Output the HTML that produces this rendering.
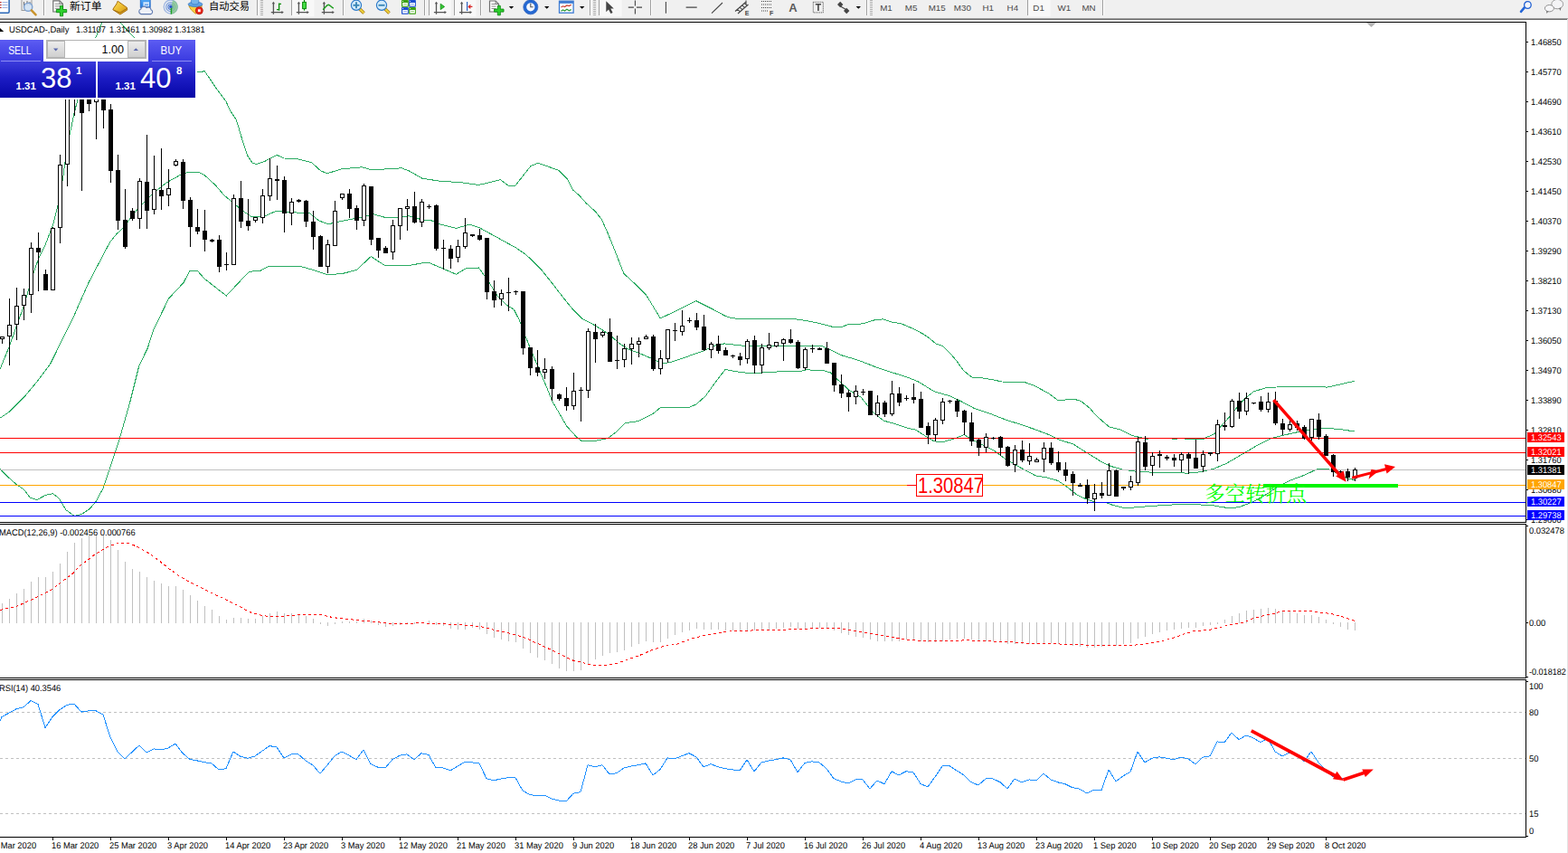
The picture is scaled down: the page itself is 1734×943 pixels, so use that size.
<!DOCTYPE html>
<html><head><meta charset="utf-8"><title>USDCAD Daily</title>
<style>
html,body{margin:0;padding:0;background:#fff;}
body{width:1734px;height:943px;position:relative;overflow:hidden;font-family:"Liberation Sans",sans-serif;}
.t{position:absolute;white-space:nowrap;line-height:11px;font-family:"Liberation Sans",sans-serif;}
.n{transform:scaleX(.95) rotate(0.03deg);transform-origin:0 0;}
svg{position:absolute;left:0;top:0;}
#tbbg{position:absolute;left:0;top:0;width:1734px;height:20px;background:#f0f0f0;}
#e1{position:absolute;left:0;top:20px;width:1734px;height:1px;background:#a0a0a0;}
#e2{position:absolute;left:0;top:21px;width:1734px;height:1px;background:#696969;}
#re{position:absolute;left:1733px;top:21px;width:1px;height:922px;background:#e3e3e3;}
#panel{position:absolute;left:0;top:44px;width:216px;height:64px;}
#panel div{position:absolute;}
.pb{background:linear-gradient(#5c5cf2,#3a3ae0);color:#fff;font-size:13px;text-align:center;line-height:24px;}
.pp{background:linear-gradient(#3c3cdc 0%,#1c1cc4 45%,#0606a6 100%);color:#fff;}
.sm{font-size:11.5px;font-weight:bold;color:#fff;line-height:12px;}
.lg{font-size:31px;color:#fff;line-height:31px;}
.su{font-size:11.5px;font-weight:bold;color:#fff;line-height:11px;}
.sb{background:linear-gradient(#ececec,#cfcfcf);border:1px solid #b4b4b4;box-sizing:border-box;}
</style></head><body>
<div id="tbbg"></div><div id="e1"></div><div id="e2"></div>
<svg width="1734" height="20" viewBox="0 0 1734 20"><rect x="-6" y="-3" width="16.1" height="17.3" rx="1.2" fill="#fff" stroke="#2a68b8" stroke-width="1.5"/>
<path d="M0 2.5 H1.6" stroke="#b02020" stroke-width="1"/><path d="M2.5 2.5 H8.5" stroke="#9fb4e0" stroke-width="1"/>
<path d="M0 5.5 H1.6" stroke="#b02020" stroke-width="1"/><path d="M2.5 5.5 H8.5" stroke="#9fb4e0" stroke-width="1"/>
<path d="M0 8.5 H1.6" stroke="#b02020" stroke-width="1"/><path d="M2.5 8.5 H8.5" stroke="#9fb4e0" stroke-width="1"/>
<rect x="24" y="-2" width="11" height="13.5" fill="#ececec" stroke="#9a9a9a" stroke-width="1"/>
<path d="M26.5 2 V7 M30 1 V6 M33 2 V6" stroke="#707070" stroke-width="1"/>
<circle cx="31.2" cy="7.8" r="4.6" fill="#cfe2f6" fill-opacity=".85" stroke="#7fa2d0" stroke-width="1.4"/>
<path d="M34.8 11.4 L39.6 16.4" stroke="#c8922a" stroke-width="2.4" stroke-linecap="round"/>
<rect x="48" y="0" width="1" height="17" fill="#a0a0a0" shape-rendering="crispEdges"/><rect x="49" y="0" width="1" height="17" fill="#fff" shape-rendering="crispEdges"/>
<path d="M58.8 0.8 H65.89999999999999 L69.39999999999999 4.3 V13.0 H58.8 Z" fill="#fff" stroke="#6e6e6e" stroke-width="1.2"/>
<path d="M65.89999999999999 0.8 V4.3 H69.39999999999999" fill="none" stroke="#7a7a7a" stroke-width="1"/>
<path d="M60.8 4.3 H66.39999999999999" stroke="#8a8a8a" stroke-width="1"/>
<path d="M60.8 6.8 H66.39999999999999" stroke="#8a8a8a" stroke-width="1"/>
<path d="M60.8 9.3 H66.39999999999999" stroke="#8a8a8a" stroke-width="1"/>
<path d="M66.4 6.3999999999999995 H69.6 V10.5 H73.7 V13.7 H69.6 V17.8 H66.4 V13.7 H62.3 V10.5 H66.4 Z" fill="#2fd02f" stroke="#0a8a10" stroke-width=".9"/>
<text x="77" y="11.4" font-family="&quot;Liberation Sans&quot;, &quot;Noto Sans CJK SC&quot;, sans-serif" font-size="11.8" fill="#000" textLength="35.6" lengthAdjust="spacingAndGlyphs">新订单</text>
<defs><linearGradient id="gy" x1="0" y1="0" x2="1" y2="1"><stop offset="0" stop-color="#fbe060"/><stop offset=".55" stop-color="#eab82a"/><stop offset="1" stop-color="#c88a14"/></linearGradient><linearGradient id="gb" x1="0" y1="0" x2="0" y2="1"><stop offset="0" stop-color="#58aef8"/><stop offset="1" stop-color="#1f78e0"/></linearGradient></defs>
<path d="M130.2 1.2 L140.4 8.4 L140.8 10.9 L132.9 16 L124.8 10.6 Q126 8 127.8 6 Q129.5 3.5 130.2 1.2 Z" fill="url(#gy)" stroke="#a8700f" stroke-width="1"/>
<path d="M125.6 11.2 L132.9 14 L140.3 9.4" fill="none" stroke="#9a640c" stroke-width=".9"/>
<path d="M155.3 0 L158 -1.5 H166.2 V8.5 H155.3 Z" fill="url(#gb)" stroke="#1b62c4" stroke-width=".8"/><rect x="158.4" y="2.2" width="6.6" height="5" fill="#e8f3ff" fill-opacity=".85"/><path d="M160 5.2 H164" stroke="#3a86e0" stroke-width="1"/>
<path d="M156 15.6 a2.9 2.9 0 0 1 -0.2 -5.6 a3.6 3.6 0 0 1 6.4 -1.4 a3 3 0 0 1 4.8 2.2 a2.5 2.5 0 0 1 -0.3 4.8 Z" fill="#eef1f7" stroke="#5d78ae" stroke-width="1.1"/>
<circle cx="188.7" cy="7.6" r="7.5" fill="#e6eef8" fill-opacity=".6" stroke="#9fb6e0" stroke-width="1.3"/><circle cx="188.7" cy="7.6" r="5" fill="none" stroke="#7f9fd8" stroke-width="1.2"/><circle cx="188.7" cy="7.6" r="2.8" fill="none" stroke="#4f7bd0" stroke-width="1.1"/>
<path d="M189.3 7.6 L189.3 15.6 A8 8 0 0 0 196.6 6 A8 8 0 0 0 191 0.2 Z" fill="#7fc486" fill-opacity=".75"/>
<path d="M189.4 7.6 V15.6" stroke="#1fa224" stroke-width="1.5"/><circle cx="188.8" cy="7.4" r="1.7" fill="#2a56c8"/>
<path d="M208.8 6.6 H223.4 Q222 11 216.2 15.3 Q210.5 11 208.8 6.6 Z" fill="#f8d040" stroke="#c8941a" stroke-width=".9"/>
<ellipse cx="216" cy="4.8" rx="7.9" ry="2.7" fill="#5ea4e4" stroke="#3a78c4" stroke-width=".8"/><ellipse cx="215.6" cy="1.8" rx="4.3" ry="3.2" fill="#74b4ea" stroke="#3a78c4" stroke-width=".8"/>
<circle cx="220.3" cy="11.7" r="4" fill="#e8281c" stroke="#b41208" stroke-width=".8"/><rect x="218.9" y="10.3" width="2.8" height="2.8" fill="#fff"/>
<text x="231" y="11.4" font-family="&quot;Liberation Sans&quot;, &quot;Noto Sans CJK SC&quot;, sans-serif" font-size="11.5" fill="#000" textLength="45" lengthAdjust="spacingAndGlyphs">自动交易</text>
<rect x="284" y="0" width="1" height="17" fill="#a0a0a0" shape-rendering="crispEdges"/><rect x="285" y="0" width="1" height="17" fill="#fff" shape-rendering="crispEdges"/>
<rect x="288" y="0" width="3" height="1" fill="#b0b0b0" shape-rendering="crispEdges"/>
<rect x="288" y="2" width="3" height="1" fill="#b0b0b0" shape-rendering="crispEdges"/>
<rect x="288" y="4" width="3" height="1" fill="#b0b0b0" shape-rendering="crispEdges"/>
<rect x="288" y="6" width="3" height="1" fill="#b0b0b0" shape-rendering="crispEdges"/>
<rect x="288" y="8" width="3" height="1" fill="#b0b0b0" shape-rendering="crispEdges"/>
<rect x="288" y="10" width="3" height="1" fill="#b0b0b0" shape-rendering="crispEdges"/>
<rect x="288" y="12" width="3" height="1" fill="#b0b0b0" shape-rendering="crispEdges"/>
<rect x="288" y="14" width="3" height="1" fill="#b0b0b0" shape-rendering="crispEdges"/>
<rect x="288" y="16" width="3" height="1" fill="#b0b0b0" shape-rendering="crispEdges"/>
<path d="M302.4 3.2 V15.8 M299.79999999999995 13.6 H312.59999999999997" stroke="#555" stroke-width="1.3" fill="none"/><path d="M300.7 4.2 L302.4 1.8 L304.09999999999997 4.2 Z M311.4 11.9 L313.79999999999995 13.6 L311.4 15.299999999999999 Z" fill="#555"/>
<path d="M308.6 3.4 V11.7 M306 10.6 H308.6 M308.6 4.4 H311" stroke="#0f8f0f" stroke-width="1.4" fill="none"/>
<rect x="323" y="-2" width="24.5" height="20.2" fill="#f8f8f8"/><rect x="322" y="0" width="1" height="17" fill="#a0a0a0" shape-rendering="crispEdges"/>
<path d="M330.4 3.2 V15.8 M327.79999999999995 13.6 H340.59999999999997" stroke="#555" stroke-width="1.3" fill="none"/><path d="M328.7 4.2 L330.4 1.8 L332.09999999999997 4.2 Z M339.4 11.9 L341.79999999999995 13.6 L339.4 15.299999999999999 Z" fill="#555"/>
<path d="M336.5 0 V11.7" stroke="#0c8a0c" stroke-width="1.2"/><rect x="334.6" y="2.4" width="3.8" height="7.2" fill="#48e048" stroke="#0c8a0c" stroke-width="1"/>
<path d="M358.4 3.2 V15.8 M355.79999999999995 13.6 H368.59999999999997" stroke="#555" stroke-width="1.3" fill="none"/><path d="M356.7 4.2 L358.4 1.8 L360.09999999999997 4.2 Z M367.4 11.9 L369.79999999999995 13.6 L367.4 15.299999999999999 Z" fill="#555"/>
<path d="M357.1 10.7 C359.5 9 361 5.3 363.2 5.2 C365 5.2 366.5 8.3 368.9 9.1" stroke="#1f9e1f" stroke-width="1.4" fill="none"/>
<rect x="379" y="0" width="1" height="17" fill="#a0a0a0" shape-rendering="crispEdges"/><rect x="380" y="0" width="1" height="17" fill="#fff" shape-rendering="crispEdges"/>
<path d="M397.9 9.9 L402.5 14.5" stroke="#a87a18" stroke-width="3.6" stroke-linecap="butt"/><path d="M397.7 9.7 L402.3 14.3" stroke="#ecd03a" stroke-width="2.2" stroke-linecap="butt"/>
<circle cx="394" cy="5.8" r="5.6" fill="#d4ecfb" stroke="#2a78c8" stroke-width="1.15"/>
<path d="M390.5 5.8 H397.5" stroke="#3b87b7" stroke-width="1.9"/>
<path d="M394 2.3 V9.3" stroke="#3b87b7" stroke-width="1.9"/>
<path d="M425.9 9.9 L430.5 14.5" stroke="#a87a18" stroke-width="3.6" stroke-linecap="butt"/><path d="M425.7 9.7 L430.3 14.3" stroke="#ecd03a" stroke-width="2.2" stroke-linecap="butt"/>
<circle cx="422" cy="5.8" r="5.6" fill="#d4ecfb" stroke="#2a78c8" stroke-width="1.15"/>
<path d="M418.5 5.8 H425.5" stroke="#3b87b7" stroke-width="1.9"/>
<rect x="444" y="0" width="7.8" height="7.7" rx=".8" fill="#3aa012"/><rect x="445.2" y="3" width="5.6" height="3.6" fill="#fff"/><rect x="446.2" y="4.1" width="3.6" height="1" fill="#8fd070"/><rect x="445" y="1" width="1" height="1" fill="#fff" fill-opacity=".8"/>
<rect x="452.1" y="0" width="7.8" height="7.7" rx=".8" fill="#1c4ed2"/><rect x="453.3" y="3" width="5.6" height="3.6" fill="#fff"/><rect x="454.3" y="4.1" width="3.6" height="1" fill="#8aa8f0"/><rect x="453.1" y="1" width="1" height="1" fill="#fff" fill-opacity=".8"/>
<rect x="444" y="8" width="7.8" height="7.7" rx=".8" fill="#1c4ed2"/><rect x="445.2" y="11" width="5.6" height="3.6" fill="#fff"/><rect x="446.2" y="12.1" width="3.6" height="1" fill="#8aa8f0"/><rect x="445" y="9" width="1" height="1" fill="#fff" fill-opacity=".8"/>
<rect x="452.1" y="8" width="7.8" height="7.7" rx=".8" fill="#3aa012"/><rect x="453.3" y="11" width="5.6" height="3.6" fill="#fff"/><rect x="454.3" y="12.1" width="3.6" height="1" fill="#8fd070"/><rect x="453.1" y="9" width="1" height="1" fill="#fff" fill-opacity=".8"/>
<rect x="469" y="0" width="1" height="17" fill="#a0a0a0" shape-rendering="crispEdges"/><rect x="470" y="0" width="1" height="17" fill="#fff" shape-rendering="crispEdges"/>
<rect x="474.6" y="-2" width="24.19999999999999" height="20.2" fill="#f8f8f8"/><rect x="473.6" y="0" width="1" height="17" fill="#a0a0a0" shape-rendering="crispEdges"/>
<path d="M482.5 3.2 V15.8 M479.9 13.6 H492.7" stroke="#555" stroke-width="1.3" fill="none"/><path d="M480.8 4.2 L482.5 1.8 L484.2 4.2 Z M491.5 11.9 L493.9 13.6 L491.5 15.299999999999999 Z" fill="#555"/>
<path d="M487.2 4.2 L491.6 7.4 L487.2 10.6 Z" fill="#37c837" stroke="#0c8d0c" stroke-width=".8"/>
<rect x="502.6" y="-2" width="24.0" height="20.2" fill="#f8f8f8"/><rect x="501.6" y="0" width="1" height="17" fill="#a0a0a0" shape-rendering="crispEdges"/>
<path d="M510.6 3.2 V15.8 M508.0 13.6 H520.8" stroke="#555" stroke-width="1.3" fill="none"/><path d="M508.90000000000003 4.2 L510.6 1.8 L512.3000000000001 4.2 Z M519.6 11.9 L522.0 13.6 L519.6 15.299999999999999 Z" fill="#555"/>
<path d="M516.6 2 V12" stroke="#2a62c0" stroke-width="1.2"/><path d="M522.4 7.4 H518.4 M520.4 5.4 L518.2 7.4 L520.4 9.4" stroke="#d82020" stroke-width="1.2" fill="none"/>
<rect x="531" y="0" width="1" height="17" fill="#a0a0a0" shape-rendering="crispEdges"/><rect x="532" y="0" width="1" height="17" fill="#fff" shape-rendering="crispEdges"/>
<path d="M541.5 1 H548.0 L551.5 4.5 V13 H541.5 Z" fill="#fff" stroke="#6e6e6e" stroke-width="1.2"/>
<path d="M548.0 1 V4.5 H551.5" fill="none" stroke="#7a7a7a" stroke-width="1"/>
<path d="M543.5 4.5 H548.5" stroke="#8a8a8a" stroke-width="1"/>
<path d="M543.5 7 H548.5" stroke="#8a8a8a" stroke-width="1"/>
<path d="M543.5 9.5 H548.5" stroke="#8a8a8a" stroke-width="1"/>
<path d="M550.3 6.3999999999999995 H553.3 V10.1 H557.0 V13.1 H553.3 V16.8 H550.3 V13.1 H546.5999999999999 V10.1 H550.3 Z" fill="#2fd02f" stroke="#0a8a10" stroke-width=".9"/>
<path d="M562.8 7 L568.1999999999999 7 L565.5 9.8 Z" fill="#000"/>
<circle cx="586.8" cy="7.8" r="6.3" fill="#f4f8ff" stroke="#2468d2" stroke-width="3.3"/><circle cx="586.8" cy="7.8" r="8.1" fill="none" stroke="#1b4fae" stroke-width=".6"/><path d="M586.8 3.8 V7.8 H589.6" stroke="#555" stroke-width="1.1" fill="none"/>
<path d="M602 7 L607.4 7 L604.7 9.8 Z" fill="#000"/>
<rect x="618.5" y="1.2" width="15.6" height="13" fill="#fff" stroke="#3b7ad2" stroke-width="1.3"/><rect x="618.5" y="1.2" width="15.6" height="2.6" fill="#3b7ad2"/>
<path d="M620.5 8 l2 -1.2 l2 .8 l2.4 -1.6 l2.4 .6 l2.4 -1.4" stroke="#c83a2a" stroke-width="1.2" fill="none"/><path d="M620.5 12.2 l2 -1.2 l2 1 l2.4 -1.8 l2.4 1.6 l2.4 -1.2" stroke="#2a9a3a" stroke-width="1.2" fill="none"/>
<path d="M641 7 L646.4 7 L643.7 9.8 Z" fill="#000"/>
<rect x="652" y="0" width="1" height="17" fill="#a0a0a0" shape-rendering="crispEdges"/><rect x="653" y="0" width="1" height="17" fill="#fff" shape-rendering="crispEdges"/>
<rect x="655.6" y="0" width="3" height="1" fill="#b0b0b0" shape-rendering="crispEdges"/>
<rect x="655.6" y="2" width="3" height="1" fill="#b0b0b0" shape-rendering="crispEdges"/>
<rect x="655.6" y="4" width="3" height="1" fill="#b0b0b0" shape-rendering="crispEdges"/>
<rect x="655.6" y="6" width="3" height="1" fill="#b0b0b0" shape-rendering="crispEdges"/>
<rect x="655.6" y="8" width="3" height="1" fill="#b0b0b0" shape-rendering="crispEdges"/>
<rect x="655.6" y="10" width="3" height="1" fill="#b0b0b0" shape-rendering="crispEdges"/>
<rect x="655.6" y="12" width="3" height="1" fill="#b0b0b0" shape-rendering="crispEdges"/>
<rect x="655.6" y="14" width="3" height="1" fill="#b0b0b0" shape-rendering="crispEdges"/>
<rect x="655.6" y="16" width="3" height="1" fill="#b0b0b0" shape-rendering="crispEdges"/>
<rect x="663.4" y="-2" width="24.200000000000045" height="20.2" fill="#f8f8f8"/><rect x="662.4" y="0" width="1" height="17" fill="#a0a0a0" shape-rendering="crispEdges"/>
<path d="M670.3 1.2 V13.2 L673 10.4 L675.4 15 L677.6 14 L675.3 9.6 L678.8 9.6 Z" fill="#454545"/>
<path d="M702.4 0.5 V6.6 M702.4 9.6 V15.6 M694.8 8.1 H700.9 M703.9 8.1 H710" stroke="#454545" stroke-width="1.1"/>
<rect x="718.5" y="0" width="1" height="17" fill="#a0a0a0" shape-rendering="crispEdges"/><rect x="719.5" y="0" width="1" height="17" fill="#fff" shape-rendering="crispEdges"/>
<path d="M736.4 2 V14.7 M758.6 8.1 H770.7 M787 14.6 L799 3" stroke="#454545" stroke-width="1.1" fill="none"/>
<path d="M813 12.5 L824.5 2.5 M816 15 L827.5 5 M815.5 10.3 L818.5 12.8 M818 8.1 L821 10.6 M820.6 5.9 L823.6 8.4 M823.2 3.7 L826.2 6.2 M825 0.5 V5" stroke="#454545" stroke-width="1.1" fill="none"/>
<text x="823.8" y="17" font-family="Liberation Sans" font-weight="bold" font-size="7" fill="#454545">E</text>
<path d="M842 1.5 H853.5" stroke="#454545" stroke-width="1" stroke-dasharray="1 1"/>
<path d="M842 5 H853.5" stroke="#454545" stroke-width="1" stroke-dasharray="1 1"/>
<path d="M842 8.5 H853.5" stroke="#454545" stroke-width="1" stroke-dasharray="1 1"/>
<path d="M842 12 H849.5" stroke="#454545" stroke-width="1" stroke-dasharray="1 1"/>
<text x="851" y="17" font-family="Liberation Sans" font-weight="bold" font-size="7" fill="#454545">F</text>
<text x="872.2" y="13" font-family="Liberation Sans" font-weight="bold" font-size="13" fill="#5a5a5a">A</text>
<rect x="899.3" y="2.3" width="11" height="11.6" fill="none" stroke="#454545" stroke-width="1" stroke-dasharray="1 1"/><path d="M901.8 4.8 H908 M904.9 4.8 V12" stroke="#454545" stroke-width="1.6" fill="none"/>
<path d="M926 5 L929.2 1.8 L932.4 5 L929.2 8.2 Z M933 12 L936.2 8.8 L939.4 12 L936.2 15.2 Z" fill="#454545"/><path d="M929.5 7 L935.5 10.5" stroke="#454545" stroke-width="1.2"/>
<path d="M946.6 7 L952.0 7 L949.3000000000001 9.8 Z" fill="#000"/>
<rect x="958" y="0" width="1" height="17" fill="#a0a0a0" shape-rendering="crispEdges"/><rect x="959" y="0" width="1" height="17" fill="#fff" shape-rendering="crispEdges"/>
<rect x="961.6" y="0" width="3" height="1" fill="#b0b0b0" shape-rendering="crispEdges"/>
<rect x="961.6" y="2" width="3" height="1" fill="#b0b0b0" shape-rendering="crispEdges"/>
<rect x="961.6" y="4" width="3" height="1" fill="#b0b0b0" shape-rendering="crispEdges"/>
<rect x="961.6" y="6" width="3" height="1" fill="#b0b0b0" shape-rendering="crispEdges"/>
<rect x="961.6" y="8" width="3" height="1" fill="#b0b0b0" shape-rendering="crispEdges"/>
<rect x="961.6" y="10" width="3" height="1" fill="#b0b0b0" shape-rendering="crispEdges"/>
<rect x="961.6" y="12" width="3" height="1" fill="#b0b0b0" shape-rendering="crispEdges"/>
<rect x="961.6" y="14" width="3" height="1" fill="#b0b0b0" shape-rendering="crispEdges"/>
<rect x="961.6" y="16" width="3" height="1" fill="#b0b0b0" shape-rendering="crispEdges"/>
<rect x="1137" y="-2" width="24.59999999999991" height="20.2" fill="#f8f8f8"/><rect x="1136" y="0" width="1" height="17" fill="#a0a0a0" shape-rendering="crispEdges"/>
<text x="979.95" y="12.3" text-anchor="middle" font-family="Liberation Sans" font-size="9.8" fill="#4a4a4a">M1</text>
<text x="1007.6" y="12.3" text-anchor="middle" font-family="Liberation Sans" font-size="9.8" fill="#4a4a4a">M5</text>
<text x="1036.2" y="12.3" text-anchor="middle" font-family="Liberation Sans" font-size="9.8" fill="#4a4a4a">M15</text>
<text x="1064.4" y="12.3" text-anchor="middle" font-family="Liberation Sans" font-size="9.8" fill="#4a4a4a">M30</text>
<text x="1092.65" y="12.3" text-anchor="middle" font-family="Liberation Sans" font-size="9.8" fill="#4a4a4a">H1</text>
<text x="1119.85" y="12.3" text-anchor="middle" font-family="Liberation Sans" font-size="9.8" fill="#4a4a4a">H4</text>
<text x="1148.6" y="12.3" text-anchor="middle" font-family="Liberation Sans" font-size="9.8" fill="#4a4a4a">D1</text>
<text x="1176.9499999999998" y="12.3" text-anchor="middle" font-family="Liberation Sans" font-size="9.8" fill="#4a4a4a">W1</text>
<text x="1204.05" y="12.3" text-anchor="middle" font-family="Liberation Sans" font-size="9.8" fill="#4a4a4a">MN</text>
<rect x="1219" y="0" width="1" height="17" fill="#a0a0a0" shape-rendering="crispEdges"/><rect x="1220" y="0" width="1" height="17" fill="#fff" shape-rendering="crispEdges"/>
<path d="M1685.8 8.4 L1682 12.8" stroke="#2466d8" stroke-width="2.6" stroke-linecap="round"/><circle cx="1689.4" cy="5.5" r="3.8" fill="#f4f6fb" stroke="#1f5fd2" stroke-width="1.3"/>
<ellipse cx="1722.2" cy="4.6" rx="6.4" ry="5.2" fill="#f4f4f6" stroke="#9a9a9a" stroke-width="1"/><path d="M1724 9 L1725.5 12 L1726.5 8.5 Z" fill="#777"/>
<ellipse cx="1713.4" cy="9.2" rx="5" ry="3.7" fill="#f6f6f8" stroke="#8e8e8e" stroke-width="1"/><path d="M1710 12 L1710.3 15 L1712.5 12.6 Z" fill="#777"/></svg>
<svg width="1734" height="943" viewBox="0 0 1734 943" shape-rendering="crispEdges">
<defs><clipPath id="cm"><rect x="0" y="25" width="1687" height="552"/></clipPath></defs>
<rect x="0" y="24" width="1688" height="1" fill="#000"/>
<rect x="1687" y="24" width="1" height="554" fill="#000"/>
<rect x="0" y="577" width="1688" height="1" fill="#000"/>
<rect x="0" y="579" width="1688" height="1" fill="#000"/>
<rect x="1687" y="579" width="1" height="171" fill="#000"/>
<rect x="0" y="749" width="1688" height="1" fill="#000"/>
<rect x="0" y="751" width="1688" height="1" fill="#000"/>
<rect x="1687" y="751" width="1" height="175" fill="#000"/>
<rect x="0" y="925" width="1688" height="1" fill="#000"/>
<g clip-path="url(#cm)">
<polyline points="0.0,408.2 10.5,382.5 18.7,359.2 26.4,338.2 37.3,300.8 43.2,284.5 50.2,270.5 58.3,249.5 64.2,226.2 69.5,197.5 72.0,179.2 77.0,149.1 82.0,125.5 85.8,110.5 105.5,42.1 112.8,25.5 118.0,18.5 128.0,18.5 133.5,25.5 148.8,42.1 180.0,62.5 205.0,76.5 218.0,79.7 226.4,78.8 238.5,96.8 250.0,112.1 254.5,122.3 261.3,132.3 267.3,152.5 273.9,172.5 279.0,180.0 284.0,181.5 292.5,178.5 306.0,171.3 314.3,175.0 327.8,175.5 344.4,179.5 354.8,189.0 362.0,191.7 377.7,186.9 400.6,184.8 411.0,187.9 444.2,185.8 452.5,189.0 467.0,197.3 487.9,200.4 508.6,201.5 529.4,204.5 544.0,201.0 553.3,198.7 562.7,205.5 570.0,205.0 580.0,192.3 587.0,183.6 595.1,180.2 606.2,184.2 618.3,188.6 627.4,197.7 633.4,209.8 640.5,215.9 648.5,224.9 658.6,234.0 665.7,243.1 672.7,259.2 680.8,279.3 689.9,302.5 700.9,312.6 715.0,326.7 724.1,341.8 730.2,351.9 747.0,344.1 770.0,332.7 788.6,342.1 802.0,349.3 809.4,351.8 830.0,352.9 880.0,352.8 892.7,354.7 905.4,357.2 922.0,361.7 930.9,361.7 937.3,358.7 948.7,358.7 956.3,357.2 966.5,354.0 976.7,352.8 985.6,355.9 997.0,357.9 1007.2,362.3 1020.0,368.7 1027.6,373.8 1035.2,380.1 1042.9,382.7 1050.5,390.3 1058.0,399.2 1065.8,410.0 1074.7,417.0 1083.6,417.4 1100.0,420.2 1107.9,422.0 1132.8,422.4 1143.2,426.1 1159.8,434.9 1170.2,442.8 1186.8,441.1 1195.2,443.2 1205.5,451.5 1210.0,457.0 1218.3,464.9 1226.6,471.8 1239.0,474.9 1251.6,481.5 1260.0,483.2 1266.0,485.1 1270.0,485.1 1271.0,484.1 1295.0,484.1 1296.0,485.1 1302.0,485.1 1303.0,484.1 1309.0,484.1 1310.0,485.1 1331.5,485.1 1334.0,483.5 1338.0,482.0 1343.0,479.5 1351.3,470.1 1359.7,460.8 1368.0,450.4 1376.3,441.0 1386.7,432.7 1401.2,428.5 1422.0,427.5 1455.3,427.5 1467.7,428.1 1484.4,424.4 1497.9,421.3" fill="none" stroke="#2aab62" stroke-width="1" />
<polyline points="0.0,462.2 10.6,455.1 26.5,439.2 39.8,423.3 55.7,402.1 68.9,375.5 79.5,354.4 90.0,330.5 98.0,312.5 121.3,268.2 129.0,258.5 135.3,253.0 150.8,232.8 167.5,215.2 184.3,201.8 201.0,192.5 209.4,190.1 219.4,190.1 226.0,193.5 237.9,204.4 248.0,216.1 256.3,222.8 268.0,232.8 278.0,239.5 290.4,239.9 306.0,233.0 321.6,234.7 342.4,235.7 352.7,244.0 363.0,247.8 379.8,244.0 400.6,239.9 413.0,236.8 425.5,240.3 440.0,240.3 452.5,238.8 467.0,243.0 477.5,244.0 487.9,248.2 504.5,252.4 519.0,248.2 529.4,251.3 550.2,262.7 571.0,274.2 580.0,280.4 586.0,285.4 598.1,297.5 610.2,312.6 620.3,325.7 632.4,340.8 644.5,352.9 657.6,359.5 668.0,366.0 676.4,372.2 684.7,379.5 695.0,386.1 705.5,389.9 720.0,396.1 730.4,401.3 740.8,400.9 757.5,395.1 778.2,387.8 788.6,382.6 801.0,379.9 819.8,382.0 834.4,383.0 851.0,382.0 884.2,382.0 900.0,382.3 908.3,382.3 918.7,387.0 931.2,392.9 949.9,398.5 968.6,405.8 987.3,412.0 1004.0,417.2 1016.4,422.4 1033.0,432.8 1049.7,437.5 1062.0,443.2 1076.7,451.1 1093.3,456.7 1112.0,464.0 1128.6,469.2 1145.3,475.0 1159.8,480.5 1170.2,485.8 1186.8,491.0 1199.3,498.9 1210.0,505.5 1218.3,510.7 1228.7,515.5 1241.2,519.0 1255.7,521.1 1272.4,522.1 1314.0,523.1 1328.5,521.7 1343.0,517.9 1355.5,512.7 1368.0,505.5 1380.4,498.2 1393.0,490.9 1405.4,484.7 1417.9,481.5 1434.5,477.8 1449.0,474.9 1467.7,473.3 1484.4,474.9 1497.9,477.0" fill="none" stroke="#2aab62" stroke-width="1" />
<polyline points="0.0,518.7 8.0,526.6 18.6,535.9 26.5,541.2 33.1,549.9 41.0,552.6 50.4,547.3 58.3,545.7 64.9,550.5 72.9,563.7 82.2,570.4 90.1,568.5 99.4,562.4 106.0,554.5 114.0,539.9 121.9,516.0 132.5,484.2 143.1,447.1 153.7,404.7 163.3,384.8 169.6,365.0 186.6,330.0 203.0,312.5 210.0,299.0 218.0,299.0 226.3,308.3 250.3,327.0 275.3,300.4 288.3,299.1 296.6,294.5 334.0,295.0 348.6,299.1 363.0,303.9 379.8,302.2 394.3,298.5 410.3,283.5 425.5,293.5 452.5,293.5 467.0,290.8 475.4,290.8 490.0,297.0 504.5,303.3 514.9,297.0 529.4,296.0 539.8,310.5 550.2,327.2 560.6,337.5 568.3,342.1 574.6,354.5 580.8,371.2 591.0,396.1 601.6,421.1 611.0,443.9 626.5,470.9 638.0,483.5 643.0,487.5 657.7,487.5 672.0,484.5 680.6,478.2 691.0,467.8 705.5,465.7 722.0,457.5 730.4,450.5 761.6,450.5 770.0,447.0 780.3,437.7 790.7,423.1 802.0,408.5 819.8,411.7 834.4,412.7 851.0,411.1 884.2,410.7 892.6,408.5 900.0,409.5 910.4,409.5 918.7,412.0 927.0,420.3 939.5,431.7 952.0,439.0 964.4,454.6 976.9,465.0 989.4,468.5 1004.0,473.3 1012.2,475.0 1022.6,481.6 1033.0,487.9 1043.4,488.5 1055.9,484.7 1066.3,480.6 1074.6,485.8 1087.0,492.0 1099.5,498.3 1112.0,507.5 1128.6,517.0 1145.3,525.9 1157.7,528.0 1170.2,531.5 1180.6,538.8 1191.0,547.1 1201.4,551.9 1211.8,555.4 1222.5,555.4 1230.8,558.5 1241.2,561.0 1253.7,561.0 1272.4,559.5 1293.0,558.1 1314.0,557.5 1341.0,558.5 1348.0,560.0 1359.7,561.8 1366.0,561.3 1372.0,560.0 1386.7,554.3 1401.2,546.0 1413.7,537.7 1428.3,530.5 1442.8,525.2 1452.0,520.8 1457.4,518.5 1467.7,518.3 1473.0,520.3 1480.2,524.2 1490.6,529.0 1497.9,530.5" fill="none" stroke="#2aab62" stroke-width="1" />
</g>
<rect x="0" y="519" width="1687" height="1" fill="#c0c0c0"/>
<rect x="0" y="484" width="1687" height="1" fill="#ff0000"/>
<rect x="0" y="500" width="1687" height="1" fill="#ff0000"/>
<rect x="0" y="536" width="1687" height="1" fill="#ffa500"/>
<rect x="0" y="555" width="1687" height="1" fill="#0000ff"/>
<rect x="0" y="570" width="1687" height="1" fill="#0000ff"/>
<rect x="2" y="372" width="1" height="8" fill="#000"/>
<rect x="0" y="372" width="5" height="3" fill="#000"/>
<rect x="1" y="373" width="3" height="1" fill="#fff"/>
<rect x="10" y="330" width="1" height="74" fill="#000"/>
<rect x="8" y="359" width="5" height="13" fill="#000"/>
<rect x="9" y="360" width="3" height="11" fill="#fff"/>
<rect x="18" y="318" width="1" height="58" fill="#000"/>
<rect x="16" y="338" width="5" height="21" fill="#000"/>
<rect x="17" y="339" width="3" height="19" fill="#fff"/>
<rect x="26" y="319" width="1" height="35" fill="#000"/>
<rect x="24" y="326" width="5" height="12" fill="#000"/>
<rect x="25" y="327" width="3" height="10" fill="#fff"/>
<rect x="34" y="268" width="1" height="78" fill="#000"/>
<rect x="32" y="274" width="5" height="52" fill="#000"/>
<rect x="33" y="275" width="3" height="50" fill="#fff"/>
<rect x="42" y="257" width="1" height="65" fill="#000"/>
<rect x="40" y="274" width="5" height="5" fill="#000"/>
<rect x="50" y="298" width="1" height="23" fill="#000"/>
<rect x="48" y="303" width="5" height="18" fill="#000"/>
<rect x="58" y="251" width="1" height="70" fill="#000"/>
<rect x="56" y="252" width="5" height="69" fill="#000"/>
<rect x="57" y="253" width="3" height="67" fill="#fff"/>
<rect x="66" y="171" width="1" height="98" fill="#000"/>
<rect x="64" y="182" width="5" height="70" fill="#000"/>
<rect x="65" y="183" width="3" height="68" fill="#fff"/>
<rect x="74" y="60" width="1" height="146" fill="#000"/>
<rect x="72" y="70" width="5" height="112" fill="#000"/>
<rect x="73" y="71" width="3" height="110" fill="#fff"/>
<rect x="82" y="60" width="1" height="68" fill="#000"/>
<rect x="80" y="70" width="5" height="30" fill="#000"/>
<rect x="90" y="50" width="1" height="161" fill="#000"/>
<rect x="88" y="60" width="5" height="65" fill="#000"/>
<rect x="98" y="80" width="1" height="43" fill="#000"/>
<rect x="96" y="90" width="5" height="25" fill="#000"/>
<rect x="106" y="70" width="1" height="84" fill="#000"/>
<rect x="104" y="85" width="5" height="28" fill="#000"/>
<rect x="105" y="86" width="3" height="26" fill="#fff"/>
<rect x="114" y="80" width="1" height="62" fill="#000"/>
<rect x="112" y="90" width="5" height="32" fill="#000"/>
<rect x="122" y="115" width="1" height="87" fill="#000"/>
<rect x="120" y="121" width="5" height="68" fill="#000"/>
<rect x="130" y="171" width="1" height="83" fill="#000"/>
<rect x="128" y="188" width="5" height="56" fill="#000"/>
<rect x="138" y="209" width="1" height="66" fill="#000"/>
<rect x="136" y="243" width="5" height="30" fill="#000"/>
<rect x="146" y="230" width="1" height="14" fill="#000"/>
<rect x="144" y="233" width="5" height="9" fill="#000"/>
<rect x="154" y="197" width="1" height="56" fill="#000"/>
<rect x="152" y="200" width="5" height="42" fill="#000"/>
<rect x="153" y="201" width="3" height="40" fill="#fff"/>
<rect x="162" y="149" width="1" height="104" fill="#000"/>
<rect x="160" y="201" width="5" height="32" fill="#000"/>
<rect x="170" y="172" width="1" height="65" fill="#000"/>
<rect x="168" y="209" width="5" height="23" fill="#000"/>
<rect x="169" y="210" width="3" height="21" fill="#fff"/>
<rect x="178" y="164" width="1" height="68" fill="#000"/>
<rect x="176" y="210" width="5" height="7" fill="#000"/>
<rect x="186" y="187" width="1" height="41" fill="#000"/>
<rect x="184" y="208" width="5" height="8" fill="#000"/>
<rect x="185" y="209" width="3" height="6" fill="#fff"/>
<rect x="194" y="176" width="1" height="8" fill="#000"/>
<rect x="192" y="178" width="5" height="5" fill="#000"/>
<rect x="193" y="179" width="3" height="3" fill="#fff"/>
<rect x="202" y="176" width="1" height="55" fill="#000"/>
<rect x="200" y="179" width="5" height="43" fill="#000"/>
<rect x="210" y="218" width="1" height="55" fill="#000"/>
<rect x="208" y="221" width="5" height="30" fill="#000"/>
<rect x="218" y="231" width="1" height="28" fill="#000"/>
<rect x="216" y="251" width="5" height="5" fill="#000"/>
<rect x="226" y="232" width="1" height="46" fill="#000"/>
<rect x="224" y="255" width="5" height="10" fill="#000"/>
<rect x="234" y="264" width="1" height="4" fill="#000"/>
<rect x="232" y="265" width="5" height="2" fill="#000"/>
<rect x="242" y="260" width="1" height="41" fill="#000"/>
<rect x="240" y="265" width="5" height="30" fill="#000"/>
<rect x="250" y="279" width="1" height="20" fill="#000"/>
<rect x="248" y="292" width="5" height="1" fill="#000"/>
<rect x="258" y="215" width="1" height="78" fill="#000"/>
<rect x="256" y="219" width="5" height="74" fill="#000"/>
<rect x="257" y="220" width="3" height="72" fill="#fff"/>
<rect x="266" y="200" width="1" height="52" fill="#000"/>
<rect x="264" y="219" width="5" height="26" fill="#000"/>
<rect x="274" y="220" width="1" height="35" fill="#000"/>
<rect x="272" y="244" width="5" height="6" fill="#000"/>
<rect x="282" y="240" width="1" height="6" fill="#000"/>
<rect x="280" y="240" width="5" height="4" fill="#000"/>
<rect x="281" y="241" width="3" height="2" fill="#fff"/>
<rect x="290" y="209" width="1" height="38" fill="#000"/>
<rect x="288" y="216" width="5" height="25" fill="#000"/>
<rect x="289" y="217" width="3" height="23" fill="#fff"/>
<rect x="298" y="175" width="1" height="47" fill="#000"/>
<rect x="296" y="197" width="5" height="20" fill="#000"/>
<rect x="297" y="198" width="3" height="18" fill="#fff"/>
<rect x="306" y="183" width="1" height="38" fill="#000"/>
<rect x="304" y="198" width="5" height="2" fill="#000"/>
<rect x="314" y="195" width="1" height="62" fill="#000"/>
<rect x="312" y="199" width="5" height="37" fill="#000"/>
<rect x="322" y="219" width="1" height="30" fill="#000"/>
<rect x="320" y="223" width="5" height="13" fill="#000"/>
<rect x="321" y="224" width="3" height="11" fill="#fff"/>
<rect x="330" y="220" width="1" height="4" fill="#000"/>
<rect x="328" y="221" width="5" height="2" fill="#000"/>
<rect x="338" y="221" width="1" height="30" fill="#000"/>
<rect x="336" y="222" width="5" height="23" fill="#000"/>
<rect x="346" y="233" width="1" height="43" fill="#000"/>
<rect x="344" y="245" width="5" height="17" fill="#000"/>
<rect x="354" y="260" width="1" height="35" fill="#000"/>
<rect x="352" y="261" width="5" height="34" fill="#000"/>
<rect x="362" y="265" width="1" height="37" fill="#000"/>
<rect x="360" y="270" width="5" height="25" fill="#000"/>
<rect x="361" y="271" width="3" height="23" fill="#fff"/>
<rect x="370" y="222" width="1" height="50" fill="#000"/>
<rect x="368" y="233" width="5" height="39" fill="#000"/>
<rect x="369" y="234" width="3" height="37" fill="#fff"/>
<rect x="378" y="214" width="1" height="7" fill="#000"/>
<rect x="376" y="214" width="5" height="5" fill="#000"/>
<rect x="377" y="215" width="3" height="3" fill="#fff"/>
<rect x="386" y="209" width="1" height="32" fill="#000"/>
<rect x="384" y="214" width="5" height="17" fill="#000"/>
<rect x="394" y="227" width="1" height="27" fill="#000"/>
<rect x="392" y="230" width="5" height="14" fill="#000"/>
<rect x="402" y="203" width="1" height="47" fill="#000"/>
<rect x="400" y="205" width="5" height="39" fill="#000"/>
<rect x="401" y="206" width="3" height="37" fill="#fff"/>
<rect x="410" y="206" width="1" height="65" fill="#000"/>
<rect x="408" y="206" width="5" height="59" fill="#000"/>
<rect x="418" y="263" width="1" height="22" fill="#000"/>
<rect x="416" y="263" width="5" height="14" fill="#000"/>
<rect x="426" y="272" width="1" height="8" fill="#000"/>
<rect x="424" y="274" width="5" height="6" fill="#000"/>
<rect x="434" y="243" width="1" height="44" fill="#000"/>
<rect x="432" y="249" width="5" height="30" fill="#000"/>
<rect x="433" y="250" width="3" height="28" fill="#fff"/>
<rect x="442" y="230" width="1" height="35" fill="#000"/>
<rect x="440" y="230" width="5" height="20" fill="#000"/>
<rect x="441" y="231" width="3" height="18" fill="#fff"/>
<rect x="450" y="220" width="1" height="35" fill="#000"/>
<rect x="448" y="228" width="5" height="3" fill="#000"/>
<rect x="449" y="229" width="3" height="1" fill="#fff"/>
<rect x="458" y="212" width="1" height="35" fill="#000"/>
<rect x="456" y="228" width="5" height="18" fill="#000"/>
<rect x="466" y="220" width="1" height="31" fill="#000"/>
<rect x="464" y="223" width="5" height="23" fill="#000"/>
<rect x="465" y="224" width="3" height="21" fill="#fff"/>
<rect x="474" y="226" width="1" height="5" fill="#000"/>
<rect x="472" y="228" width="5" height="1" fill="#000"/>
<rect x="482" y="226" width="1" height="51" fill="#000"/>
<rect x="480" y="227" width="5" height="48" fill="#000"/>
<rect x="490" y="265" width="1" height="33" fill="#000"/>
<rect x="488" y="274" width="5" height="1" fill="#000"/>
<rect x="498" y="271" width="1" height="26" fill="#000"/>
<rect x="496" y="275" width="5" height="11" fill="#000"/>
<rect x="506" y="265" width="1" height="25" fill="#000"/>
<rect x="504" y="272" width="5" height="13" fill="#000"/>
<rect x="505" y="273" width="3" height="11" fill="#fff"/>
<rect x="514" y="241" width="1" height="34" fill="#000"/>
<rect x="512" y="257" width="5" height="16" fill="#000"/>
<rect x="513" y="258" width="3" height="14" fill="#fff"/>
<rect x="522" y="259" width="1" height="3" fill="#000"/>
<rect x="520" y="259" width="5" height="2" fill="#000"/>
<rect x="530" y="253" width="1" height="13" fill="#000"/>
<rect x="528" y="260" width="5" height="5" fill="#000"/>
<rect x="538" y="263" width="1" height="68" fill="#000"/>
<rect x="536" y="263" width="5" height="60" fill="#000"/>
<rect x="546" y="310" width="1" height="30" fill="#000"/>
<rect x="544" y="322" width="5" height="10" fill="#000"/>
<rect x="554" y="320" width="1" height="18" fill="#000"/>
<rect x="552" y="324" width="5" height="7" fill="#000"/>
<rect x="553" y="325" width="3" height="5" fill="#fff"/>
<rect x="562" y="307" width="1" height="37" fill="#000"/>
<rect x="560" y="323" width="5" height="1" fill="#000"/>
<rect x="570" y="321" width="1" height="5" fill="#000"/>
<rect x="568" y="322" width="5" height="1" fill="#000"/>
<rect x="578" y="322" width="1" height="70" fill="#000"/>
<rect x="576" y="322" width="5" height="63" fill="#000"/>
<rect x="586" y="384" width="1" height="31" fill="#000"/>
<rect x="584" y="384" width="5" height="23" fill="#000"/>
<rect x="594" y="387" width="1" height="29" fill="#000"/>
<rect x="592" y="406" width="5" height="6" fill="#000"/>
<rect x="602" y="396" width="1" height="23" fill="#000"/>
<rect x="600" y="408" width="5" height="4" fill="#000"/>
<rect x="601" y="409" width="3" height="2" fill="#fff"/>
<rect x="610" y="405" width="1" height="38" fill="#000"/>
<rect x="608" y="408" width="5" height="22" fill="#000"/>
<rect x="618" y="435" width="1" height="8" fill="#000"/>
<rect x="616" y="436" width="5" height="5" fill="#000"/>
<rect x="626" y="428" width="1" height="26" fill="#000"/>
<rect x="624" y="440" width="5" height="9" fill="#000"/>
<rect x="634" y="412" width="1" height="41" fill="#000"/>
<rect x="632" y="432" width="5" height="17" fill="#000"/>
<rect x="633" y="433" width="3" height="15" fill="#fff"/>
<rect x="642" y="428" width="1" height="38" fill="#000"/>
<rect x="640" y="431" width="5" height="1" fill="#000"/>
<rect x="650" y="363" width="1" height="77" fill="#000"/>
<rect x="648" y="366" width="5" height="66" fill="#000"/>
<rect x="649" y="367" width="3" height="64" fill="#fff"/>
<rect x="658" y="358" width="1" height="43" fill="#000"/>
<rect x="656" y="367" width="5" height="8" fill="#000"/>
<rect x="666" y="366" width="1" height="7" fill="#000"/>
<rect x="664" y="367" width="5" height="4" fill="#000"/>
<rect x="665" y="368" width="3" height="2" fill="#fff"/>
<rect x="674" y="352" width="1" height="48" fill="#000"/>
<rect x="672" y="367" width="5" height="33" fill="#000"/>
<rect x="682" y="371" width="1" height="37" fill="#000"/>
<rect x="680" y="398" width="5" height="1" fill="#000"/>
<rect x="690" y="380" width="1" height="26" fill="#000"/>
<rect x="688" y="385" width="5" height="13" fill="#000"/>
<rect x="689" y="386" width="3" height="11" fill="#fff"/>
<rect x="698" y="373" width="1" height="30" fill="#000"/>
<rect x="696" y="380" width="5" height="6" fill="#000"/>
<rect x="697" y="381" width="3" height="4" fill="#fff"/>
<rect x="706" y="373" width="1" height="22" fill="#000"/>
<rect x="704" y="377" width="5" height="4" fill="#000"/>
<rect x="705" y="378" width="3" height="2" fill="#fff"/>
<rect x="714" y="370" width="1" height="5" fill="#000"/>
<rect x="712" y="372" width="5" height="3" fill="#000"/>
<rect x="713" y="373" width="3" height="1" fill="#fff"/>
<rect x="722" y="370" width="1" height="40" fill="#000"/>
<rect x="720" y="372" width="5" height="36" fill="#000"/>
<rect x="730" y="387" width="1" height="27" fill="#000"/>
<rect x="728" y="396" width="5" height="12" fill="#000"/>
<rect x="729" y="397" width="3" height="10" fill="#fff"/>
<rect x="738" y="364" width="1" height="37" fill="#000"/>
<rect x="736" y="364" width="5" height="33" fill="#000"/>
<rect x="737" y="365" width="3" height="31" fill="#fff"/>
<rect x="746" y="357" width="1" height="20" fill="#000"/>
<rect x="744" y="365" width="5" height="1" fill="#000"/>
<rect x="754" y="343" width="1" height="28" fill="#000"/>
<rect x="752" y="360" width="5" height="7" fill="#000"/>
<rect x="753" y="361" width="3" height="5" fill="#fff"/>
<rect x="762" y="351" width="1" height="6" fill="#000"/>
<rect x="760" y="354" width="5" height="1" fill="#000"/>
<rect x="770" y="346" width="1" height="19" fill="#000"/>
<rect x="768" y="354" width="5" height="8" fill="#000"/>
<rect x="778" y="348" width="1" height="40" fill="#000"/>
<rect x="776" y="361" width="5" height="26" fill="#000"/>
<rect x="786" y="378" width="1" height="18" fill="#000"/>
<rect x="784" y="380" width="5" height="7" fill="#000"/>
<rect x="785" y="381" width="3" height="5" fill="#fff"/>
<rect x="794" y="371" width="1" height="20" fill="#000"/>
<rect x="792" y="380" width="5" height="8" fill="#000"/>
<rect x="802" y="384" width="1" height="9" fill="#000"/>
<rect x="800" y="387" width="5" height="6" fill="#000"/>
<rect x="810" y="392" width="1" height="4" fill="#000"/>
<rect x="808" y="393" width="5" height="1" fill="#000"/>
<rect x="818" y="390" width="1" height="14" fill="#000"/>
<rect x="816" y="394" width="5" height="4" fill="#000"/>
<rect x="826" y="375" width="1" height="27" fill="#000"/>
<rect x="824" y="377" width="5" height="20" fill="#000"/>
<rect x="825" y="378" width="3" height="18" fill="#fff"/>
<rect x="834" y="371" width="1" height="42" fill="#000"/>
<rect x="832" y="376" width="5" height="28" fill="#000"/>
<rect x="842" y="380" width="1" height="33" fill="#000"/>
<rect x="840" y="384" width="5" height="20" fill="#000"/>
<rect x="841" y="385" width="3" height="18" fill="#fff"/>
<rect x="850" y="368" width="1" height="19" fill="#000"/>
<rect x="848" y="381" width="5" height="4" fill="#000"/>
<rect x="849" y="382" width="3" height="2" fill="#fff"/>
<rect x="858" y="378" width="1" height="6" fill="#000"/>
<rect x="856" y="378" width="5" height="5" fill="#000"/>
<rect x="857" y="379" width="3" height="3" fill="#fff"/>
<rect x="866" y="374" width="1" height="25" fill="#000"/>
<rect x="864" y="375" width="5" height="5" fill="#000"/>
<rect x="865" y="376" width="3" height="3" fill="#fff"/>
<rect x="874" y="364" width="1" height="16" fill="#000"/>
<rect x="872" y="375" width="5" height="4" fill="#000"/>
<rect x="882" y="376" width="1" height="32" fill="#000"/>
<rect x="880" y="378" width="5" height="29" fill="#000"/>
<rect x="890" y="384" width="1" height="25" fill="#000"/>
<rect x="888" y="386" width="5" height="21" fill="#000"/>
<rect x="889" y="387" width="3" height="19" fill="#fff"/>
<rect x="898" y="381" width="1" height="9" fill="#000"/>
<rect x="896" y="385" width="5" height="1" fill="#000"/>
<rect x="906" y="384" width="1" height="3" fill="#000"/>
<rect x="904" y="385" width="5" height="2" fill="#000"/>
<rect x="914" y="378" width="1" height="24" fill="#000"/>
<rect x="912" y="385" width="5" height="17" fill="#000"/>
<rect x="922" y="401" width="1" height="32" fill="#000"/>
<rect x="920" y="401" width="5" height="25" fill="#000"/>
<rect x="930" y="414" width="1" height="26" fill="#000"/>
<rect x="928" y="425" width="5" height="10" fill="#000"/>
<rect x="938" y="431" width="1" height="24" fill="#000"/>
<rect x="936" y="434" width="5" height="5" fill="#000"/>
<rect x="946" y="426" width="1" height="21" fill="#000"/>
<rect x="944" y="432" width="5" height="7" fill="#000"/>
<rect x="945" y="433" width="3" height="5" fill="#fff"/>
<rect x="954" y="430" width="1" height="7" fill="#000"/>
<rect x="952" y="433" width="5" height="1" fill="#000"/>
<rect x="962" y="432" width="1" height="27" fill="#000"/>
<rect x="960" y="432" width="5" height="27" fill="#000"/>
<rect x="970" y="437" width="1" height="24" fill="#000"/>
<rect x="968" y="445" width="5" height="14" fill="#000"/>
<rect x="969" y="446" width="3" height="12" fill="#fff"/>
<rect x="978" y="443" width="1" height="18" fill="#000"/>
<rect x="976" y="445" width="5" height="13" fill="#000"/>
<rect x="986" y="421" width="1" height="39" fill="#000"/>
<rect x="984" y="435" width="5" height="23" fill="#000"/>
<rect x="985" y="436" width="3" height="21" fill="#fff"/>
<rect x="994" y="428" width="1" height="21" fill="#000"/>
<rect x="992" y="435" width="5" height="10" fill="#000"/>
<rect x="1002" y="437" width="1" height="6" fill="#000"/>
<rect x="1000" y="440" width="5" height="1" fill="#000"/>
<rect x="1010" y="424" width="1" height="22" fill="#000"/>
<rect x="1008" y="439" width="5" height="3" fill="#000"/>
<rect x="1018" y="433" width="1" height="40" fill="#000"/>
<rect x="1016" y="441" width="5" height="32" fill="#000"/>
<rect x="1026" y="467" width="1" height="24" fill="#000"/>
<rect x="1024" y="471" width="5" height="10" fill="#000"/>
<rect x="1034" y="462" width="1" height="26" fill="#000"/>
<rect x="1032" y="464" width="5" height="17" fill="#000"/>
<rect x="1033" y="465" width="3" height="15" fill="#fff"/>
<rect x="1042" y="440" width="1" height="29" fill="#000"/>
<rect x="1040" y="444" width="5" height="21" fill="#000"/>
<rect x="1041" y="445" width="3" height="19" fill="#fff"/>
<rect x="1050" y="442" width="1" height="4" fill="#000"/>
<rect x="1048" y="443" width="5" height="1" fill="#000"/>
<rect x="1058" y="441" width="1" height="20" fill="#000"/>
<rect x="1056" y="443" width="5" height="12" fill="#000"/>
<rect x="1066" y="453" width="1" height="28" fill="#000"/>
<rect x="1064" y="454" width="5" height="13" fill="#000"/>
<rect x="1074" y="456" width="1" height="37" fill="#000"/>
<rect x="1072" y="467" width="5" height="21" fill="#000"/>
<rect x="1082" y="485" width="1" height="19" fill="#000"/>
<rect x="1080" y="486" width="5" height="9" fill="#000"/>
<rect x="1090" y="479" width="1" height="21" fill="#000"/>
<rect x="1088" y="483" width="5" height="12" fill="#000"/>
<rect x="1089" y="484" width="3" height="10" fill="#fff"/>
<rect x="1098" y="483" width="1" height="3" fill="#000"/>
<rect x="1096" y="484" width="5" height="1" fill="#000"/>
<rect x="1106" y="482" width="1" height="22" fill="#000"/>
<rect x="1104" y="483" width="5" height="12" fill="#000"/>
<rect x="1114" y="493" width="1" height="23" fill="#000"/>
<rect x="1112" y="494" width="5" height="21" fill="#000"/>
<rect x="1122" y="492" width="1" height="30" fill="#000"/>
<rect x="1120" y="497" width="5" height="17" fill="#000"/>
<rect x="1121" y="498" width="3" height="15" fill="#fff"/>
<rect x="1130" y="487" width="1" height="24" fill="#000"/>
<rect x="1128" y="497" width="5" height="12" fill="#000"/>
<rect x="1138" y="490" width="1" height="24" fill="#000"/>
<rect x="1136" y="504" width="5" height="6" fill="#000"/>
<rect x="1137" y="505" width="3" height="4" fill="#fff"/>
<rect x="1146" y="506" width="1" height="5" fill="#000"/>
<rect x="1144" y="508" width="5" height="3" fill="#000"/>
<rect x="1145" y="509" width="3" height="1" fill="#fff"/>
<rect x="1154" y="489" width="1" height="33" fill="#000"/>
<rect x="1152" y="495" width="5" height="13" fill="#000"/>
<rect x="1153" y="496" width="3" height="11" fill="#fff"/>
<rect x="1162" y="489" width="1" height="25" fill="#000"/>
<rect x="1160" y="495" width="5" height="17" fill="#000"/>
<rect x="1170" y="499" width="1" height="23" fill="#000"/>
<rect x="1168" y="511" width="5" height="9" fill="#000"/>
<rect x="1178" y="511" width="1" height="21" fill="#000"/>
<rect x="1176" y="519" width="5" height="7" fill="#000"/>
<rect x="1186" y="521" width="1" height="27" fill="#000"/>
<rect x="1184" y="524" width="5" height="10" fill="#000"/>
<rect x="1194" y="534" width="1" height="4" fill="#000"/>
<rect x="1192" y="536" width="5" height="2" fill="#000"/>
<rect x="1202" y="530" width="1" height="27" fill="#000"/>
<rect x="1200" y="536" width="5" height="15" fill="#000"/>
<rect x="1210" y="535" width="1" height="30" fill="#000"/>
<rect x="1208" y="545" width="5" height="7" fill="#000"/>
<rect x="1209" y="546" width="3" height="5" fill="#fff"/>
<rect x="1218" y="533" width="1" height="18" fill="#000"/>
<rect x="1216" y="545" width="5" height="3" fill="#000"/>
<rect x="1226" y="512" width="1" height="36" fill="#000"/>
<rect x="1224" y="520" width="5" height="28" fill="#000"/>
<rect x="1225" y="521" width="3" height="26" fill="#fff"/>
<rect x="1234" y="519" width="1" height="30" fill="#000"/>
<rect x="1232" y="520" width="5" height="29" fill="#000"/>
<rect x="1242" y="538" width="1" height="4" fill="#000"/>
<rect x="1240" y="538" width="5" height="2" fill="#000"/>
<rect x="1250" y="526" width="1" height="16" fill="#000"/>
<rect x="1248" y="532" width="5" height="7" fill="#000"/>
<rect x="1249" y="533" width="3" height="5" fill="#fff"/>
<rect x="1258" y="483" width="1" height="54" fill="#000"/>
<rect x="1256" y="488" width="5" height="46" fill="#000"/>
<rect x="1257" y="489" width="3" height="44" fill="#fff"/>
<rect x="1266" y="482" width="1" height="38" fill="#000"/>
<rect x="1264" y="489" width="5" height="27" fill="#000"/>
<rect x="1274" y="500" width="1" height="26" fill="#000"/>
<rect x="1272" y="504" width="5" height="11" fill="#000"/>
<rect x="1273" y="505" width="3" height="9" fill="#fff"/>
<rect x="1282" y="498" width="1" height="19" fill="#000"/>
<rect x="1280" y="502" width="5" height="2" fill="#000"/>
<rect x="1290" y="503" width="1" height="6" fill="#000"/>
<rect x="1288" y="505" width="5" height="2" fill="#000"/>
<rect x="1298" y="502" width="1" height="14" fill="#000"/>
<rect x="1296" y="506" width="5" height="3" fill="#000"/>
<rect x="1306" y="500" width="1" height="22" fill="#000"/>
<rect x="1304" y="502" width="5" height="7" fill="#000"/>
<rect x="1305" y="503" width="3" height="5" fill="#fff"/>
<rect x="1314" y="500" width="1" height="24" fill="#000"/>
<rect x="1312" y="502" width="5" height="5" fill="#000"/>
<rect x="1322" y="486" width="1" height="32" fill="#000"/>
<rect x="1320" y="506" width="5" height="12" fill="#000"/>
<rect x="1330" y="498" width="1" height="24" fill="#000"/>
<rect x="1328" y="502" width="5" height="14" fill="#000"/>
<rect x="1329" y="503" width="3" height="12" fill="#fff"/>
<rect x="1338" y="500" width="1" height="4" fill="#000"/>
<rect x="1336" y="500" width="5" height="2" fill="#000"/>
<rect x="1346" y="464" width="1" height="46" fill="#000"/>
<rect x="1344" y="469" width="5" height="33" fill="#000"/>
<rect x="1345" y="470" width="3" height="31" fill="#fff"/>
<rect x="1354" y="456" width="1" height="20" fill="#000"/>
<rect x="1352" y="470" width="5" height="2" fill="#000"/>
<rect x="1362" y="441" width="1" height="32" fill="#000"/>
<rect x="1360" y="443" width="5" height="29" fill="#000"/>
<rect x="1361" y="444" width="3" height="27" fill="#fff"/>
<rect x="1370" y="434" width="1" height="29" fill="#000"/>
<rect x="1368" y="443" width="5" height="12" fill="#000"/>
<rect x="1378" y="434" width="1" height="25" fill="#000"/>
<rect x="1376" y="440" width="5" height="15" fill="#000"/>
<rect x="1377" y="441" width="3" height="13" fill="#fff"/>
<rect x="1386" y="445" width="1" height="2" fill="#000"/>
<rect x="1384" y="445" width="5" height="1" fill="#000"/>
<rect x="1394" y="438" width="1" height="17" fill="#000"/>
<rect x="1392" y="444" width="5" height="9" fill="#000"/>
<rect x="1402" y="434" width="1" height="22" fill="#000"/>
<rect x="1400" y="444" width="5" height="9" fill="#000"/>
<rect x="1401" y="445" width="3" height="7" fill="#fff"/>
<rect x="1410" y="433" width="1" height="37" fill="#000"/>
<rect x="1408" y="443" width="5" height="25" fill="#000"/>
<rect x="1418" y="463" width="1" height="18" fill="#000"/>
<rect x="1416" y="468" width="5" height="7" fill="#000"/>
<rect x="1426" y="464" width="1" height="13" fill="#000"/>
<rect x="1424" y="469" width="5" height="6" fill="#000"/>
<rect x="1425" y="470" width="3" height="4" fill="#fff"/>
<rect x="1434" y="465" width="1" height="11" fill="#000"/>
<rect x="1432" y="468" width="5" height="5" fill="#000"/>
<rect x="1442" y="470" width="1" height="16" fill="#000"/>
<rect x="1440" y="472" width="5" height="13" fill="#000"/>
<rect x="1450" y="463" width="1" height="24" fill="#000"/>
<rect x="1448" y="463" width="5" height="21" fill="#000"/>
<rect x="1449" y="464" width="3" height="19" fill="#fff"/>
<rect x="1458" y="457" width="1" height="29" fill="#000"/>
<rect x="1456" y="464" width="5" height="19" fill="#000"/>
<rect x="1466" y="480" width="1" height="24" fill="#000"/>
<rect x="1464" y="482" width="5" height="22" fill="#000"/>
<rect x="1474" y="502" width="1" height="25" fill="#000"/>
<rect x="1472" y="503" width="5" height="19" fill="#000"/>
<rect x="1482" y="520" width="1" height="5" fill="#000"/>
<rect x="1480" y="521" width="5" height="1" fill="#000"/>
<rect x="1490" y="518" width="1" height="14" fill="#000"/>
<rect x="1488" y="521" width="5" height="7" fill="#000"/>
<rect x="1498" y="517" width="1" height="15" fill="#000"/>
<rect x="1496" y="519" width="5" height="10" fill="#000"/>
<rect x="1497" y="520" width="3" height="8" fill="#fff"/>
<rect x="2" y="667" width="1" height="22" fill="#c0c0c0"/>
<rect x="10" y="662" width="1" height="27" fill="#c0c0c0"/>
<rect x="18" y="656" width="1" height="33" fill="#c0c0c0"/>
<rect x="26" y="651" width="1" height="38" fill="#c0c0c0"/>
<rect x="34" y="643" width="1" height="46" fill="#c0c0c0"/>
<rect x="42" y="638" width="1" height="51" fill="#c0c0c0"/>
<rect x="50" y="638" width="1" height="51" fill="#c0c0c0"/>
<rect x="58" y="632" width="1" height="57" fill="#c0c0c0"/>
<rect x="66" y="623" width="1" height="66" fill="#c0c0c0"/>
<rect x="74" y="610" width="1" height="79" fill="#c0c0c0"/>
<rect x="82" y="600" width="1" height="89" fill="#c0c0c0"/>
<rect x="90" y="595" width="1" height="94" fill="#c0c0c0"/>
<rect x="98" y="592" width="1" height="97" fill="#c0c0c0"/>
<rect x="106" y="591" width="1" height="98" fill="#c0c0c0"/>
<rect x="114" y="592" width="1" height="97" fill="#c0c0c0"/>
<rect x="122" y="597" width="1" height="92" fill="#c0c0c0"/>
<rect x="130" y="608" width="1" height="81" fill="#c0c0c0"/>
<rect x="138" y="621" width="1" height="68" fill="#c0c0c0"/>
<rect x="146" y="629" width="1" height="60" fill="#c0c0c0"/>
<rect x="154" y="632" width="1" height="57" fill="#c0c0c0"/>
<rect x="162" y="638" width="1" height="51" fill="#c0c0c0"/>
<rect x="170" y="642" width="1" height="47" fill="#c0c0c0"/>
<rect x="178" y="645" width="1" height="44" fill="#c0c0c0"/>
<rect x="186" y="648" width="1" height="41" fill="#c0c0c0"/>
<rect x="194" y="648" width="1" height="41" fill="#c0c0c0"/>
<rect x="202" y="652" width="1" height="37" fill="#c0c0c0"/>
<rect x="210" y="658" width="1" height="31" fill="#c0c0c0"/>
<rect x="218" y="664" width="1" height="25" fill="#c0c0c0"/>
<rect x="226" y="670" width="1" height="19" fill="#c0c0c0"/>
<rect x="234" y="674" width="1" height="15" fill="#c0c0c0"/>
<rect x="242" y="681" width="1" height="8" fill="#c0c0c0"/>
<rect x="250" y="685" width="1" height="4" fill="#c0c0c0"/>
<rect x="258" y="683" width="1" height="6" fill="#c0c0c0"/>
<rect x="266" y="683" width="1" height="6" fill="#c0c0c0"/>
<rect x="274" y="684" width="1" height="5" fill="#c0c0c0"/>
<rect x="282" y="684" width="1" height="5" fill="#c0c0c0"/>
<rect x="290" y="681" width="1" height="8" fill="#c0c0c0"/>
<rect x="298" y="678" width="1" height="11" fill="#c0c0c0"/>
<rect x="306" y="676" width="1" height="13" fill="#c0c0c0"/>
<rect x="314" y="678" width="1" height="11" fill="#c0c0c0"/>
<rect x="322" y="678" width="1" height="11" fill="#c0c0c0"/>
<rect x="330" y="679" width="1" height="10" fill="#c0c0c0"/>
<rect x="338" y="681" width="1" height="8" fill="#c0c0c0"/>
<rect x="346" y="684" width="1" height="5" fill="#c0c0c0"/>
<rect x="354" y="688" width="1" height="2" fill="#c0c0c0"/>
<rect x="362" y="688" width="1" height="4" fill="#c0c0c0"/>
<rect x="370" y="688" width="1" height="2" fill="#c0c0c0"/>
<rect x="378" y="687" width="1" height="2" fill="#c0c0c0"/>
<rect x="386" y="687" width="1" height="2" fill="#c0c0c0"/>
<rect x="394" y="687" width="1" height="2" fill="#c0c0c0"/>
<rect x="402" y="684" width="1" height="5" fill="#c0c0c0"/>
<rect x="410" y="686" width="1" height="3" fill="#c0c0c0"/>
<rect x="418" y="688" width="1" height="3" fill="#c0c0c0"/>
<rect x="426" y="688" width="1" height="5" fill="#c0c0c0"/>
<rect x="434" y="688" width="1" height="4" fill="#c0c0c0"/>
<rect x="442" y="688" width="1" height="3" fill="#c0c0c0"/>
<rect x="450" y="688" width="1" height="2" fill="#c0c0c0"/>
<rect x="458" y="688" width="1" height="2" fill="#c0c0c0"/>
<rect x="474" y="686" width="1" height="3" fill="#c0c0c0"/>
<rect x="482" y="688" width="1" height="3" fill="#c0c0c0"/>
<rect x="490" y="688" width="1" height="4" fill="#c0c0c0"/>
<rect x="498" y="688" width="1" height="7" fill="#c0c0c0"/>
<rect x="506" y="688" width="1" height="8" fill="#c0c0c0"/>
<rect x="514" y="688" width="1" height="8" fill="#c0c0c0"/>
<rect x="522" y="688" width="1" height="6" fill="#c0c0c0"/>
<rect x="530" y="688" width="1" height="8" fill="#c0c0c0"/>
<rect x="538" y="688" width="1" height="13" fill="#c0c0c0"/>
<rect x="546" y="688" width="1" height="17" fill="#c0c0c0"/>
<rect x="554" y="688" width="1" height="19" fill="#c0c0c0"/>
<rect x="562" y="688" width="1" height="21" fill="#c0c0c0"/>
<rect x="570" y="688" width="1" height="22" fill="#c0c0c0"/>
<rect x="578" y="688" width="1" height="29" fill="#c0c0c0"/>
<rect x="586" y="688" width="1" height="34" fill="#c0c0c0"/>
<rect x="594" y="688" width="1" height="39" fill="#c0c0c0"/>
<rect x="602" y="688" width="1" height="42" fill="#c0c0c0"/>
<rect x="610" y="688" width="1" height="46" fill="#c0c0c0"/>
<rect x="618" y="688" width="1" height="51" fill="#c0c0c0"/>
<rect x="626" y="688" width="1" height="54" fill="#c0c0c0"/>
<rect x="634" y="688" width="1" height="54" fill="#c0c0c0"/>
<rect x="642" y="688" width="1" height="53" fill="#c0c0c0"/>
<rect x="650" y="688" width="1" height="46" fill="#c0c0c0"/>
<rect x="658" y="688" width="1" height="41" fill="#c0c0c0"/>
<rect x="666" y="688" width="1" height="37" fill="#c0c0c0"/>
<rect x="674" y="688" width="1" height="34" fill="#c0c0c0"/>
<rect x="682" y="688" width="1" height="33" fill="#c0c0c0"/>
<rect x="690" y="688" width="1" height="31" fill="#c0c0c0"/>
<rect x="698" y="688" width="1" height="27" fill="#c0c0c0"/>
<rect x="706" y="688" width="1" height="24" fill="#c0c0c0"/>
<rect x="714" y="688" width="1" height="21" fill="#c0c0c0"/>
<rect x="722" y="688" width="1" height="22" fill="#c0c0c0"/>
<rect x="730" y="688" width="1" height="22" fill="#c0c0c0"/>
<rect x="738" y="688" width="1" height="18" fill="#c0c0c0"/>
<rect x="746" y="688" width="1" height="14" fill="#c0c0c0"/>
<rect x="754" y="688" width="1" height="11" fill="#c0c0c0"/>
<rect x="762" y="688" width="1" height="9" fill="#c0c0c0"/>
<rect x="770" y="688" width="1" height="7" fill="#c0c0c0"/>
<rect x="778" y="688" width="1" height="8" fill="#c0c0c0"/>
<rect x="786" y="688" width="1" height="8" fill="#c0c0c0"/>
<rect x="794" y="688" width="1" height="8" fill="#c0c0c0"/>
<rect x="802" y="688" width="1" height="9" fill="#c0c0c0"/>
<rect x="810" y="688" width="1" height="9" fill="#c0c0c0"/>
<rect x="818" y="688" width="1" height="10" fill="#c0c0c0"/>
<rect x="826" y="688" width="1" height="9" fill="#c0c0c0"/>
<rect x="834" y="688" width="1" height="9" fill="#c0c0c0"/>
<rect x="842" y="688" width="1" height="9" fill="#c0c0c0"/>
<rect x="850" y="688" width="1" height="8" fill="#c0c0c0"/>
<rect x="858" y="688" width="1" height="7" fill="#c0c0c0"/>
<rect x="866" y="688" width="1" height="6" fill="#c0c0c0"/>
<rect x="874" y="688" width="1" height="5" fill="#c0c0c0"/>
<rect x="882" y="688" width="1" height="7" fill="#c0c0c0"/>
<rect x="890" y="688" width="1" height="7" fill="#c0c0c0"/>
<rect x="898" y="688" width="1" height="6" fill="#c0c0c0"/>
<rect x="906" y="688" width="1" height="6" fill="#c0c0c0"/>
<rect x="914" y="688" width="1" height="7" fill="#c0c0c0"/>
<rect x="922" y="688" width="1" height="9" fill="#c0c0c0"/>
<rect x="930" y="688" width="1" height="12" fill="#c0c0c0"/>
<rect x="938" y="688" width="1" height="14" fill="#c0c0c0"/>
<rect x="946" y="688" width="1" height="16" fill="#c0c0c0"/>
<rect x="954" y="688" width="1" height="17" fill="#c0c0c0"/>
<rect x="962" y="688" width="1" height="19" fill="#c0c0c0"/>
<rect x="970" y="688" width="1" height="21" fill="#c0c0c0"/>
<rect x="978" y="688" width="1" height="21" fill="#c0c0c0"/>
<rect x="986" y="688" width="1" height="21" fill="#c0c0c0"/>
<rect x="994" y="688" width="1" height="21" fill="#c0c0c0"/>
<rect x="1002" y="688" width="1" height="19" fill="#c0c0c0"/>
<rect x="1010" y="688" width="1" height="19" fill="#c0c0c0"/>
<rect x="1018" y="688" width="1" height="21" fill="#c0c0c0"/>
<rect x="1026" y="688" width="1" height="22" fill="#c0c0c0"/>
<rect x="1034" y="688" width="1" height="22" fill="#c0c0c0"/>
<rect x="1042" y="688" width="1" height="21" fill="#c0c0c0"/>
<rect x="1050" y="688" width="1" height="19" fill="#c0c0c0"/>
<rect x="1058" y="688" width="1" height="18" fill="#c0c0c0"/>
<rect x="1066" y="688" width="1" height="18" fill="#c0c0c0"/>
<rect x="1074" y="688" width="1" height="19" fill="#c0c0c0"/>
<rect x="1082" y="688" width="1" height="21" fill="#c0c0c0"/>
<rect x="1090" y="688" width="1" height="21" fill="#c0c0c0"/>
<rect x="1098" y="688" width="1" height="21" fill="#c0c0c0"/>
<rect x="1106" y="688" width="1" height="22" fill="#c0c0c0"/>
<rect x="1114" y="688" width="1" height="24" fill="#c0c0c0"/>
<rect x="1122" y="688" width="1" height="24" fill="#c0c0c0"/>
<rect x="1130" y="688" width="1" height="24" fill="#c0c0c0"/>
<rect x="1138" y="688" width="1" height="24" fill="#c0c0c0"/>
<rect x="1146" y="688" width="1" height="24" fill="#c0c0c0"/>
<rect x="1154" y="688" width="1" height="23" fill="#c0c0c0"/>
<rect x="1162" y="688" width="1" height="23" fill="#c0c0c0"/>
<rect x="1170" y="688" width="1" height="24" fill="#c0c0c0"/>
<rect x="1178" y="688" width="1" height="25" fill="#c0c0c0"/>
<rect x="1186" y="688" width="1" height="26" fill="#c0c0c0"/>
<rect x="1194" y="688" width="1" height="27" fill="#c0c0c0"/>
<rect x="1202" y="688" width="1" height="28" fill="#c0c0c0"/>
<rect x="1210" y="688" width="1" height="28" fill="#c0c0c0"/>
<rect x="1218" y="688" width="1" height="27" fill="#c0c0c0"/>
<rect x="1226" y="688" width="1" height="26" fill="#c0c0c0"/>
<rect x="1234" y="688" width="1" height="26" fill="#c0c0c0"/>
<rect x="1242" y="688" width="1" height="24" fill="#c0c0c0"/>
<rect x="1250" y="688" width="1" height="23" fill="#c0c0c0"/>
<rect x="1258" y="688" width="1" height="18" fill="#c0c0c0"/>
<rect x="1266" y="688" width="1" height="16" fill="#c0c0c0"/>
<rect x="1274" y="688" width="1" height="13" fill="#c0c0c0"/>
<rect x="1282" y="688" width="1" height="11" fill="#c0c0c0"/>
<rect x="1290" y="688" width="1" height="9" fill="#c0c0c0"/>
<rect x="1298" y="688" width="1" height="8" fill="#c0c0c0"/>
<rect x="1306" y="688" width="1" height="7" fill="#c0c0c0"/>
<rect x="1314" y="688" width="1" height="6" fill="#c0c0c0"/>
<rect x="1322" y="688" width="1" height="6" fill="#c0c0c0"/>
<rect x="1330" y="688" width="1" height="4" fill="#c0c0c0"/>
<rect x="1338" y="688" width="1" height="3" fill="#c0c0c0"/>
<rect x="1346" y="688" width="1" height="2" fill="#c0c0c0"/>
<rect x="1354" y="685" width="1" height="4" fill="#c0c0c0"/>
<rect x="1362" y="681" width="1" height="8" fill="#c0c0c0"/>
<rect x="1370" y="678" width="1" height="11" fill="#c0c0c0"/>
<rect x="1378" y="675" width="1" height="14" fill="#c0c0c0"/>
<rect x="1386" y="674" width="1" height="15" fill="#c0c0c0"/>
<rect x="1394" y="673" width="1" height="16" fill="#c0c0c0"/>
<rect x="1402" y="672" width="1" height="17" fill="#c0c0c0"/>
<rect x="1410" y="673" width="1" height="16" fill="#c0c0c0"/>
<rect x="1418" y="675" width="1" height="14" fill="#c0c0c0"/>
<rect x="1426" y="676" width="1" height="13" fill="#c0c0c0"/>
<rect x="1434" y="678" width="1" height="11" fill="#c0c0c0"/>
<rect x="1442" y="680" width="1" height="9" fill="#c0c0c0"/>
<rect x="1450" y="680" width="1" height="9" fill="#c0c0c0"/>
<rect x="1458" y="682" width="1" height="7" fill="#c0c0c0"/>
<rect x="1466" y="685" width="1" height="4" fill="#c0c0c0"/>
<rect x="1474" y="688" width="1" height="2" fill="#c0c0c0"/>
<rect x="1482" y="688" width="1" height="5" fill="#c0c0c0"/>
<rect x="1490" y="688" width="1" height="8" fill="#c0c0c0"/>
<rect x="1498" y="688" width="1" height="9" fill="#c0c0c0"/>
<polyline points="0.0,674.4 18.8,670.1 30.0,665.1 42.6,659.4 57.6,651.8 70.0,641.8 80.0,634.3 90.0,624.3 105.0,613.0 117.6,605.0 130.0,600.5 140.0,600.0 150.0,603.5 162.7,610.5 175.2,619.3 187.7,629.3 200.0,638.1 217.8,647.6 235.3,656.1 250.3,663.1 265.3,670.6 275.3,676.4 290.4,680.6 300.4,681.9 320.4,680.6 330.4,679.6 355.4,679.6 368.0,682.6 385.5,684.6 405.5,686.6 425.5,688.6 434.0,689.4 466.5,688.9 496.6,690.1 521.6,691.4 534.0,693.1 546.6,696.4 564.0,700.2 579.0,704.4 594.0,711.2 609.0,718.2 621.7,724.4 634.0,730.2 646.8,733.2 656.8,735.7 669.3,735.7 684.3,732.7 696.8,728.2 709.3,723.7 721.9,718.2 734.4,714.4 749.4,711.9 764.4,706.2 784.4,701.2 809.5,697.7 834.5,696.9 868.0,696.2 898.0,694.9 930.6,694.9 950.6,698.2 973.0,702.4 993.0,705.7 1008.0,707.7 1028.0,708.9 1053.0,708.9 1068.0,707.7 1093.3,708.9 1118.3,709.4 1133.3,711.2 1168.4,711.9 1193.4,712.7 1218.4,713.7 1243.5,713.7 1261.0,712.7 1278.5,710.2 1291.0,706.9 1300.0,704.4 1310.0,700.7 1320.0,697.7 1337.5,696.4 1357.6,691.4 1375.0,688.1 1387.6,683.1 1400.0,680.1 1410.0,678.1 1417.6,675.6 1445.0,675.1 1455.0,676.4 1472.7,678.6 1485.0,681.9 1497.7,686.1" fill="none" stroke="#ff0000" stroke-width="1" stroke-dasharray="3 3"/>
<line x1="0" y1="787.5" x2="1687" y2="787.5" stroke="#c0c0c0" stroke-width="1" stroke-dasharray="3 3"/>
<line x1="0" y1="838.5" x2="1687" y2="838.5" stroke="#c0c0c0" stroke-width="1" stroke-dasharray="3 3"/>
<line x1="0" y1="899.5" x2="1687" y2="899.5" stroke="#c0c0c0" stroke-width="1" stroke-dasharray="3 3"/>
<polyline points="-6.0,810.0 2.0,792.6 10.0,788.1 18.0,783.8 26.0,781.8 34.0,774.6 42.0,778.3 50.0,804.6 58.0,792.6 66.0,784.6 74.0,779.3 82.0,778.1 90.0,787.1 98.0,785.8 106.0,785.8 114.0,790.1 122.0,815.1 130.0,830.9 138.0,838.9 146.0,831.4 154.0,823.9 162.0,831.9 170.0,827.9 178.0,828.9 186.0,826.9 194.0,822.1 202.0,832.7 210.0,839.4 218.0,840.9 226.0,842.7 234.0,843.9 242.0,850.9 250.0,849.7 258.0,830.9 266.0,836.4 274.0,838.2 282.0,835.9 290.0,830.2 298.0,824.6 306.0,825.9 314.0,837.9 322.0,833.9 330.0,833.9 338.0,840.9 346.0,845.9 354.0,855.2 362.0,845.7 370.0,835.7 378.0,830.9 386.0,835.2 394.0,839.7 402.0,828.9 410.0,844.7 418.0,848.2 426.0,848.9 434.0,839.7 442.0,835.2 450.0,833.9 458.0,839.7 466.0,832.7 474.0,834.4 482.0,848.9 490.0,848.9 498.0,851.9 506.0,847.2 514.0,842.2 522.0,842.9 530.0,843.9 538.0,860.7 546.0,862.9 554.0,860.9 562.0,859.7 570.0,859.7 578.0,874.0 586.0,878.5 594.0,880.0 602.0,879.0 610.0,883.0 618.0,885.0 626.0,886.0 634.0,877.2 642.0,875.5 650.0,845.7 658.0,847.7 666.0,845.7 674.0,855.9 682.0,854.7 690.0,848.9 698.0,846.9 706.0,845.7 714.0,843.9 722.0,856.9 730.0,850.7 738.0,837.9 746.0,838.9 754.0,835.7 762.0,832.7 770.0,836.9 778.0,847.9 786.0,844.7 794.0,847.7 802.0,849.7 810.0,850.9 818.0,851.9 826.0,839.9 834.0,852.9 842.0,842.9 850.0,840.9 858.0,839.7 866.0,837.9 874.0,839.7 882.0,853.9 890.0,843.4 898.0,841.9 906.0,842.9 914.0,849.7 922.0,860.7 930.0,863.9 938.0,865.9 946.0,861.9 954.0,861.9 962.0,872.0 970.0,862.9 978.0,866.7 986.0,852.7 994.0,856.9 1002.0,852.7 1010.0,853.9 1018.0,866.4 1026.0,870.0 1034.0,858.9 1042.0,846.9 1050.0,846.7 1058.0,851.9 1066.0,856.9 1074.0,864.7 1082.0,868.0 1090.0,860.9 1098.0,860.9 1106.0,864.7 1114.0,872.0 1122.0,860.9 1130.0,864.9 1138.0,861.9 1146.0,862.9 1154.0,855.2 1162.0,861.9 1170.0,864.9 1178.0,866.7 1186.0,870.7 1194.0,872.2 1202.0,877.0 1210.0,873.0 1218.0,874.0 1226.0,850.9 1234.0,863.9 1242.0,857.9 1250.0,853.4 1258.0,830.9 1266.0,842.9 1274.0,838.2 1282.0,836.9 1290.0,838.2 1298.0,839.9 1306.0,836.9 1314.0,838.9 1322.0,844.7 1330.0,837.2 1338.0,835.9 1346.0,819.9 1354.0,820.9 1362.0,809.9 1370.0,817.6 1378.0,812.9 1386.0,815.9 1394.0,820.6 1402.0,815.9 1410.0,830.9 1418.0,835.9 1426.0,831.9 1434.0,833.9 1442.0,841.9 1450.0,830.9 1458.0,842.7 1466.0,851.4 1474.0,858.9 1482.0,860.2 1490.0,860.7 1498.0,857.2" fill="none" stroke="#1e90ff" stroke-width="1" />
<rect x="58" y="926" width="1" height="3" fill="#000"/>
<rect x="122" y="926" width="1" height="3" fill="#000"/>
<rect x="186" y="926" width="1" height="3" fill="#000"/>
<rect x="250" y="926" width="1" height="3" fill="#000"/>
<rect x="314" y="926" width="1" height="3" fill="#000"/>
<rect x="378" y="926" width="1" height="3" fill="#000"/>
<rect x="442" y="926" width="1" height="3" fill="#000"/>
<rect x="506" y="926" width="1" height="3" fill="#000"/>
<rect x="570" y="926" width="1" height="3" fill="#000"/>
<rect x="634" y="926" width="1" height="3" fill="#000"/>
<rect x="698" y="926" width="1" height="3" fill="#000"/>
<rect x="762" y="926" width="1" height="3" fill="#000"/>
<rect x="826" y="926" width="1" height="3" fill="#000"/>
<rect x="890" y="926" width="1" height="3" fill="#000"/>
<rect x="954" y="926" width="1" height="3" fill="#000"/>
<rect x="1018" y="926" width="1" height="3" fill="#000"/>
<rect x="1082" y="926" width="1" height="3" fill="#000"/>
<rect x="1146" y="926" width="1" height="3" fill="#000"/>
<rect x="1210" y="926" width="1" height="3" fill="#000"/>
<rect x="1274" y="926" width="1" height="3" fill="#000"/>
<rect x="1338" y="926" width="1" height="3" fill="#000"/>
<rect x="1402" y="926" width="1" height="3" fill="#000"/>
<rect x="1466" y="926" width="1" height="3" fill="#000"/>
<rect x="1688" y="46" width="2" height="1" fill="#000"/>
<rect x="1688" y="79" width="2" height="1" fill="#000"/>
<rect x="1688" y="112" width="2" height="1" fill="#000"/>
<rect x="1688" y="145" width="2" height="1" fill="#000"/>
<rect x="1688" y="178" width="2" height="1" fill="#000"/>
<rect x="1688" y="211" width="2" height="1" fill="#000"/>
<rect x="1688" y="244" width="2" height="1" fill="#000"/>
<rect x="1688" y="277" width="2" height="1" fill="#000"/>
<rect x="1688" y="310" width="2" height="1" fill="#000"/>
<rect x="1688" y="343" width="2" height="1" fill="#000"/>
<rect x="1688" y="376" width="2" height="1" fill="#000"/>
<rect x="1688" y="409" width="2" height="1" fill="#000"/>
<rect x="1688" y="442" width="2" height="1" fill="#000"/>
<rect x="1688" y="475" width="2" height="1" fill="#000"/>
<rect x="1688" y="508" width="2" height="1" fill="#000"/>
<rect x="1688" y="541" width="2" height="1" fill="#000"/>
<rect x="1688" y="574" width="2" height="1" fill="#000"/>
<rect x="1688" y="581" width="2" height="1" fill="#000"/>
<rect x="1688" y="688" width="2" height="1" fill="#000"/>
<rect x="1688" y="748" width="2" height="1" fill="#000"/>
<rect x="1688" y="753" width="2" height="1" fill="#000"/>
<rect x="1688" y="924" width="2" height="1" fill="#000"/>
<rect x="1397" y="535" width="149" height="4" fill="#00f400"/>
<rect x="1013.5" y="524.5" width="73" height="24" fill="#fff" stroke="#ff0000" stroke-width="1"/>
<rect x="1003" y="536" width="10" height="1" fill="#ff0000"/>
</svg>
<svg width="1734" height="943" viewBox="0 0 1734 943">
<path d="M0 31 L0 34.9 L4.2 34.9 Z" fill="#000"/>
<path d="M1511 25 L1522 25 L1516.5 30 Z" fill="#b4b4b4"/>
<line x1="1408.5" y1="442.2" x2="1484.5" y2="528.5" stroke="#ff0000" stroke-width="3.5"/>
<path d="M1477.2 526.5 L1485.8 520.5 L1488.6 532.8 Z" fill="#ff0000"/>
<line x1="1495.2" y1="528.3" x2="1521" y2="521.6" stroke="#ff0000" stroke-width="3"/>
<path d="M1513.5 529.8 L1516.5 518.8 L1524.5 520.6 Z" fill="#ff0000"/>
<line x1="1519" y1="522.2" x2="1536" y2="517.8" stroke="#ff0000" stroke-width="3"/>
<path d="M1531 513.3 L1543 516 L1533.6 523.6 Z" fill="#ff0000"/>
<line x1="1383.8" y1="807.9" x2="1481" y2="860" stroke="#ff0000" stroke-width="3.7"/>
<path d="M1474 861.2 L1478.4 852.8 L1486.2 863 Z" fill="#ff0000"/>
<line x1="1485.5" y1="862" x2="1511" y2="853.4" stroke="#ff0000" stroke-width="3.7"/>
<path d="M1506.3 850.6 L1518.8 850.6 L1509.9 858.9 Z" fill="#ff0000"/>
<text x="1332" y="553.5" font-family="&quot;Liberation Serif&quot;, &quot;Noto Serif CJK SC&quot;, serif" font-size="22.4" fill="#00ff00" textLength="113" lengthAdjust="spacingAndGlyphs">多空转折点</text>
</svg>
<div class="t n" style="left:1693.4px;top:41px;font-size:9.8px;color:#000;">1.46850</div>
<div class="t n" style="left:1693.4px;top:74px;font-size:9.8px;color:#000;">1.45770</div>
<div class="t n" style="left:1693.4px;top:107px;font-size:9.8px;color:#000;">1.44690</div>
<div class="t n" style="left:1693.4px;top:140px;font-size:9.8px;color:#000;">1.43610</div>
<div class="t n" style="left:1693.4px;top:173px;font-size:9.8px;color:#000;">1.42530</div>
<div class="t n" style="left:1693.4px;top:206px;font-size:9.8px;color:#000;">1.41450</div>
<div class="t n" style="left:1693.4px;top:239px;font-size:9.8px;color:#000;">1.40370</div>
<div class="t n" style="left:1693.4px;top:272px;font-size:9.8px;color:#000;">1.39290</div>
<div class="t n" style="left:1693.4px;top:305px;font-size:9.8px;color:#000;">1.38210</div>
<div class="t n" style="left:1693.4px;top:338px;font-size:9.8px;color:#000;">1.37130</div>
<div class="t n" style="left:1693.4px;top:371px;font-size:9.8px;color:#000;">1.36050</div>
<div class="t n" style="left:1693.4px;top:404px;font-size:9.8px;color:#000;">1.34970</div>
<div class="t n" style="left:1693.4px;top:437px;font-size:9.8px;color:#000;">1.33890</div>
<div class="t n" style="left:1693.4px;top:470px;font-size:9.8px;color:#000;">1.32810</div>
<div class="t n" style="left:1693.4px;top:503px;font-size:9.8px;color:#000;">1.31760</div>
<div class="t n" style="left:1693.4px;top:536px;font-size:9.8px;color:#000;">1.30680</div>
<div class="t n" style="left:1693.4px;top:569px;font-size:9.8px;color:#000;">1.29600</div>
<div class="t n" style="left:1690.5px;top:581px;font-size:9.8px;color:#000;">0.032478</div>
<div class="t n" style="left:1690.5px;top:683px;font-size:9.8px;color:#000;">0.00</div>
<div class="t n" style="left:1690.5px;top:737px;font-size:9.8px;color:#000;transform:scaleX(.925) rotate(0.03deg);">-0.018182</div>
<div class="t n" style="left:1690.5px;top:753px;font-size:9.8px;color:#000;">100</div>
<div class="t n" style="left:1690.5px;top:782px;font-size:9.8px;color:#000;">80</div>
<div class="t n" style="left:1690.5px;top:833px;font-size:9.8px;color:#000;">50</div>
<div class="t n" style="left:1690.5px;top:894px;font-size:9.8px;color:#000;">15</div>
<div class="t n" style="left:1690.5px;top:913px;font-size:9.8px;color:#000;">0</div>
<div style="position:absolute;left:1689px;top:478px;width:41px;height:11px;background:#ff0000"></div>
<div class="t n" style="left:1693.4px;top:478px;font-size:9.8px;color:#fff;">1.32543</div>
<div style="position:absolute;left:1689px;top:494px;width:41px;height:11px;background:#ff0000"></div>
<div class="t n" style="left:1693.4px;top:494px;font-size:9.8px;color:#fff;">1.32021</div>
<div style="position:absolute;left:1689px;top:514px;width:41px;height:11px;background:#000"></div>
<div class="t n" style="left:1693.4px;top:514px;font-size:9.8px;color:#fff;">1.31381</div>
<div style="position:absolute;left:1689px;top:530px;width:41px;height:11px;background:#ffa500"></div>
<div class="t n" style="left:1693.4px;top:530px;font-size:9.8px;color:#fff;">1.30847</div>
<div style="position:absolute;left:1689px;top:549px;width:41px;height:11px;background:#0000ff"></div>
<div class="t n" style="left:1693.4px;top:549px;font-size:9.8px;color:#fff;">1.30227</div>
<div style="position:absolute;left:1689px;top:564px;width:41px;height:11px;background:#0000ff"></div>
<div class="t n" style="left:1693.4px;top:564px;font-size:9.8px;color:#fff;">1.29738</div>
<div class="t n" style="left:-7px;top:929px;font-size:9.8px;color:#000;">5 Mar 2020</div>
<div class="t n" style="left:57px;top:929px;font-size:9.8px;color:#000;">16 Mar 2020</div>
<div class="t n" style="left:121px;top:929px;font-size:9.8px;color:#000;">25 Mar 2020</div>
<div class="t n" style="left:185px;top:929px;font-size:9.8px;color:#000;">3 Apr 2020</div>
<div class="t n" style="left:249px;top:929px;font-size:9.8px;color:#000;">14 Apr 2020</div>
<div class="t n" style="left:313px;top:929px;font-size:9.8px;color:#000;">23 Apr 2020</div>
<div class="t n" style="left:377px;top:929px;font-size:9.8px;color:#000;">3 May 2020</div>
<div class="t n" style="left:441px;top:929px;font-size:9.8px;color:#000;">12 May 2020</div>
<div class="t n" style="left:505px;top:929px;font-size:9.8px;color:#000;">21 May 2020</div>
<div class="t n" style="left:569px;top:929px;font-size:9.8px;color:#000;">31 May 2020</div>
<div class="t n" style="left:633px;top:929px;font-size:9.8px;color:#000;">9 Jun 2020</div>
<div class="t n" style="left:697px;top:929px;font-size:9.8px;color:#000;">18 Jun 2020</div>
<div class="t n" style="left:761px;top:929px;font-size:9.8px;color:#000;">28 Jun 2020</div>
<div class="t n" style="left:825px;top:929px;font-size:9.8px;color:#000;">7 Jul 2020</div>
<div class="t n" style="left:889px;top:929px;font-size:9.8px;color:#000;">16 Jul 2020</div>
<div class="t n" style="left:953px;top:929px;font-size:9.8px;color:#000;">26 Jul 2020</div>
<div class="t n" style="left:1017px;top:929px;font-size:9.8px;color:#000;">4 Aug 2020</div>
<div class="t n" style="left:1081px;top:929px;font-size:9.8px;color:#000;">13 Aug 2020</div>
<div class="t n" style="left:1145px;top:929px;font-size:9.8px;color:#000;">23 Aug 2020</div>
<div class="t n" style="left:1209px;top:929px;font-size:9.8px;color:#000;">1 Sep 2020</div>
<div class="t n" style="left:1273px;top:929px;font-size:9.8px;color:#000;">10 Sep 2020</div>
<div class="t n" style="left:1337px;top:929px;font-size:9.8px;color:#000;">20 Sep 2020</div>
<div class="t n" style="left:1401px;top:929px;font-size:9.8px;color:#000;">29 Sep 2020</div>
<div class="t n" style="left:1465px;top:929px;font-size:9.8px;color:#000;">8 Oct 2020</div>
<div class="t n" style="left:9.6px;top:27px;font-size:9.8px;color:#000;transform:scaleX(.96) rotate(0.03deg);">USDCAD-,Daily</div>
<div class="t n" style="left:84.4px;top:27px;font-size:9.8px;color:#000;">1.31107</div>
<div class="t n" style="left:120.60000000000001px;top:27px;font-size:9.8px;color:#000;">1.31461</div>
<div class="t n" style="left:156.8px;top:27px;font-size:9.8px;color:#000;">1.30982</div>
<div class="t n" style="left:193.0px;top:27px;font-size:9.8px;color:#000;">1.31381</div>
<div class="t n" style="left:-1px;top:583px;font-size:9.8px;color:#000;">MACD(12,26,9) -0.002456 0.000766</div>
<div class="t n" style="left:-1px;top:755px;font-size:9.8px;color:#000;">RSI(14) 40.3546</div>
<div class="t " style="left:1014.9px;top:525.2px;font-size:23.0px;color:#ff0000;line-height:24px;transform:scaleX(.878) rotate(0.02deg);transform-origin:0 0;">1.30847</div>
<div style="position:absolute;left:0;top:42px;width:218px;height:68px;background:#fff;"></div>
<div id="panel">
 <div class="pb" style="left:0;top:0;width:48px;height:24px;"><span style="display:inline-block;transform:scaleX(.8);transform-origin:50% 50%;position:relative;left:-2px">SELL</span></div>
 <div style="left:48px;top:0;width:116px;height:24px;background:#fff;"></div>
 <div style="left:51px;top:0;width:111px;height:21px;border:1px solid #b4b4b4;box-sizing:border-box;background:#fff;"></div>
 <div class="sb" style="left:52px;top:1px;width:20px;height:19px;"></div>
 <div class="sb" style="left:141px;top:1px;width:20px;height:19px;"></div>
 <div style="left:72px;top:1px;width:65px;height:19px;font-size:12.6px;line-height:20px;text-align:right;color:#000;">1.00</div>
 <div class="pb" style="left:164px;top:0;width:52px;height:24px;"><span style="display:inline-block;transform:scaleX(.88);transform-origin:50% 50%;position:relative;left:-1px">BUY</span></div>
 <div class="pp" style="left:0;top:24px;width:106px;height:40px;"></div>
 <div class="pp" style="left:108px;top:24px;width:108px;height:40px;"></div>
 <div style="left:1px;top:23px;width:44px;height:1px;background:#8c8cf4;"></div>
 <div style="left:168px;top:23px;width:44px;height:1px;background:#8c8cf4;"></div>
 <div class="sm" style="left:17.5px;top:45px;">1.31</div><div class="lg" style="left:45px;top:27px;">38</div><div class="su" style="left:84px;top:29px;">1</div>
 <div class="sm" style="left:127.5px;top:45px;">1.31</div><div class="lg" style="left:155px;top:27px;">40</div><div class="su" style="left:195px;top:29px;">8</div>
 <svg width="216" height="64" viewBox="0 0 216 64" style="left:0;top:0"><path d="M59 9.5 H64.4 L61.7 12.4 Z M147.6 12 H153 L150.3 9.2 Z" fill="#5a68ae"/></svg>
</div>
<div id="re"></div>
</body></html>
